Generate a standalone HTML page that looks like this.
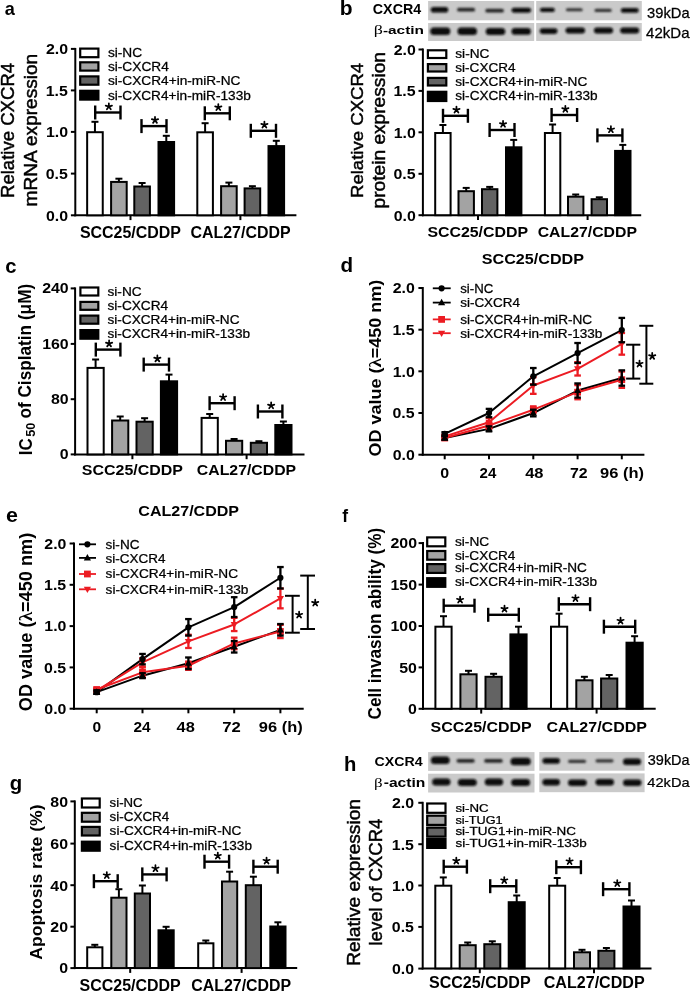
<!DOCTYPE html>
<html><head><meta charset="utf-8"><style>
html,body{margin:0;padding:0;background:#fff;overflow:hidden;}
svg{display:block;}
</style></head><body>
<svg width="691" height="992" viewBox="0 0 691 992">
<defs><filter id="bl" x="-20%" y="-60%" width="140%" height="220%"><feGaussianBlur stdDeviation="0.8"/></filter><filter id="soft" x="0" y="0" width="100%" height="100%"><feGaussianBlur stdDeviation="0.3"/></filter></defs>
<g filter="url(#soft)">
<rect width="691" height="992" fill="#fff"/>
<line x1="75.30" y1="47.90" x2="75.30" y2="216.30" stroke="#000" stroke-width="2.0"/>
<line x1="74.30" y1="215.30" x2="296.40" y2="215.30" stroke="#000" stroke-width="2.0"/>
<line x1="70.90" y1="48.90" x2="75.30" y2="48.90" stroke="#000" stroke-width="2.0"/>
<text transform="translate(45.92,54.20) scale(1.0900,1)" font-size="14.60" font-weight="bold" font-family='"Liberation Sans", sans-serif' fill="#000" >2.0</text>
<line x1="70.90" y1="90.40" x2="75.30" y2="90.40" stroke="#000" stroke-width="2.0"/>
<text transform="translate(45.68,95.70) scale(1.0900,1)" font-size="14.60" font-weight="bold" font-family='"Liberation Sans", sans-serif' fill="#000" >1.5</text>
<line x1="70.90" y1="131.90" x2="75.30" y2="131.90" stroke="#000" stroke-width="2.0"/>
<text transform="translate(45.92,137.20) scale(1.0900,1)" font-size="14.60" font-weight="bold" font-family='"Liberation Sans", sans-serif' fill="#000" >1.0</text>
<line x1="70.90" y1="173.60" x2="75.30" y2="173.60" stroke="#000" stroke-width="2.0"/>
<text transform="translate(45.68,178.90) scale(1.0900,1)" font-size="14.60" font-weight="bold" font-family='"Liberation Sans", sans-serif' fill="#000" >0.5</text>
<line x1="70.90" y1="215.30" x2="75.30" y2="215.30" stroke="#000" stroke-width="2.0"/>
<text transform="translate(45.92,220.60) scale(1.0900,1)" font-size="14.60" font-weight="bold" font-family='"Liberation Sans", sans-serif' fill="#000" >0.0</text>
<line x1="130.50" y1="215.30" x2="130.50" y2="220.10" stroke="#000" stroke-width="2.0"/>
<line x1="240.40" y1="215.30" x2="240.40" y2="220.10" stroke="#000" stroke-width="2.0"/>
<line x1="94.95" y1="121.80" x2="94.95" y2="132.20" stroke="#000" stroke-width="2.0"/>
<line x1="91.45" y1="121.80" x2="98.45" y2="121.80" stroke="#000" stroke-width="2.0"/>
<rect x="87.15" y="132.20" width="15.60" height="83.10" fill="#ffffff" stroke="#000" stroke-width="2.0"/>
<line x1="118.90" y1="178.70" x2="118.90" y2="181.90" stroke="#000" stroke-width="2.0"/>
<line x1="115.40" y1="178.70" x2="122.40" y2="178.70" stroke="#000" stroke-width="2.0"/>
<rect x="111.10" y="181.90" width="15.60" height="33.40" fill="#a3a3a3" stroke="#000" stroke-width="2.0"/>
<line x1="142.10" y1="183.00" x2="142.10" y2="186.50" stroke="#000" stroke-width="2.0"/>
<line x1="138.60" y1="183.00" x2="145.60" y2="183.00" stroke="#000" stroke-width="2.0"/>
<rect x="134.30" y="186.50" width="15.60" height="28.80" fill="#646464" stroke="#000" stroke-width="2.0"/>
<line x1="166.30" y1="135.80" x2="166.30" y2="142.00" stroke="#000" stroke-width="2.0"/>
<line x1="162.80" y1="135.80" x2="169.80" y2="135.80" stroke="#000" stroke-width="2.0"/>
<rect x="158.50" y="142.00" width="15.60" height="73.30" fill="#000000" stroke="#000" stroke-width="2.0"/>
<line x1="205.10" y1="123.20" x2="205.10" y2="132.30" stroke="#000" stroke-width="2.0"/>
<line x1="201.60" y1="123.20" x2="208.60" y2="123.20" stroke="#000" stroke-width="2.0"/>
<rect x="197.30" y="132.30" width="15.60" height="83.00" fill="#ffffff" stroke="#000" stroke-width="2.0"/>
<line x1="228.90" y1="182.60" x2="228.90" y2="186.20" stroke="#000" stroke-width="2.0"/>
<line x1="225.40" y1="182.60" x2="232.40" y2="182.60" stroke="#000" stroke-width="2.0"/>
<rect x="221.10" y="186.20" width="15.60" height="29.10" fill="#a3a3a3" stroke="#000" stroke-width="2.0"/>
<line x1="252.40" y1="186.20" x2="252.40" y2="188.40" stroke="#000" stroke-width="2.0"/>
<line x1="248.90" y1="186.20" x2="255.90" y2="186.20" stroke="#000" stroke-width="2.0"/>
<rect x="244.60" y="188.40" width="15.60" height="26.90" fill="#646464" stroke="#000" stroke-width="2.0"/>
<line x1="276.30" y1="140.80" x2="276.30" y2="146.10" stroke="#000" stroke-width="2.0"/>
<line x1="272.80" y1="140.80" x2="279.80" y2="140.80" stroke="#000" stroke-width="2.0"/>
<rect x="268.50" y="146.10" width="15.60" height="69.20" fill="#000000" stroke="#000" stroke-width="2.0"/>
<line x1="95.20" y1="112.50" x2="120.50" y2="112.50" stroke="#000" stroke-width="2.4"/>
<line x1="95.20" y1="105.50" x2="95.20" y2="119.50" stroke="#000" stroke-width="2.4"/>
<line x1="120.50" y1="105.50" x2="120.50" y2="119.50" stroke="#000" stroke-width="2.4"/>
<path d="M108.85,106.60L108.85,103.30M108.85,106.60L111.99,105.58M108.85,106.60L105.71,105.58M108.85,106.60L110.79,109.27M108.85,106.60L106.91,109.27" stroke="#000" stroke-width="1.75" stroke-linecap="round" fill="none"/>
<line x1="141.50" y1="126.10" x2="166.50" y2="126.10" stroke="#000" stroke-width="2.4"/>
<line x1="141.50" y1="119.10" x2="141.50" y2="133.10" stroke="#000" stroke-width="2.4"/>
<line x1="166.50" y1="119.10" x2="166.50" y2="133.10" stroke="#000" stroke-width="2.4"/>
<path d="M155.00,120.20L155.00,116.90M155.00,120.20L158.14,119.18M155.00,120.20L151.86,119.18M155.00,120.20L156.94,122.87M155.00,120.20L153.06,122.87" stroke="#000" stroke-width="1.75" stroke-linecap="round" fill="none"/>
<line x1="204.80" y1="113.30" x2="229.80" y2="113.30" stroke="#000" stroke-width="2.4"/>
<line x1="204.80" y1="106.30" x2="204.80" y2="120.30" stroke="#000" stroke-width="2.4"/>
<line x1="229.80" y1="106.30" x2="229.80" y2="120.30" stroke="#000" stroke-width="2.4"/>
<path d="M218.30,107.40L218.30,104.10M218.30,107.40L221.44,106.38M218.30,107.40L215.16,106.38M218.30,107.40L220.24,110.07M218.30,107.40L216.36,110.07" stroke="#000" stroke-width="1.75" stroke-linecap="round" fill="none"/>
<line x1="250.80" y1="130.80" x2="276.00" y2="130.80" stroke="#000" stroke-width="2.4"/>
<line x1="250.80" y1="123.80" x2="250.80" y2="137.80" stroke="#000" stroke-width="2.4"/>
<line x1="276.00" y1="123.80" x2="276.00" y2="137.80" stroke="#000" stroke-width="2.4"/>
<path d="M264.40,124.90L264.40,121.60M264.40,124.90L267.54,123.88M264.40,124.90L261.26,123.88M264.40,124.90L266.34,127.57M264.40,124.90L262.46,127.57" stroke="#000" stroke-width="1.75" stroke-linecap="round" fill="none"/>
<rect x="80.20" y="48.60" width="18.20" height="8.60" fill="#ffffff" stroke="#000" stroke-width="2.2"/>
<text transform="translate(107.89,57.30) scale(1.1443,1)" font-size="12.00" font-weight="normal" font-family='"Liberation Sans", sans-serif' fill="#000" stroke="#000" stroke-width="0.25" >si-NC</text>
<rect x="80.20" y="62.30" width="18.20" height="8.30" fill="#a3a3a3" stroke="#000" stroke-width="2.2"/>
<text transform="translate(107.89,70.90) scale(1.1422,1)" font-size="12.00" font-weight="normal" font-family='"Liberation Sans", sans-serif' fill="#000" stroke="#000" stroke-width="0.25" >si-CXCR4</text>
<rect x="80.20" y="76.40" width="18.20" height="8.30" fill="#646464" stroke="#000" stroke-width="2.2"/>
<text transform="translate(107.89,84.80) scale(1.1394,1)" font-size="12.00" font-weight="normal" font-family='"Liberation Sans", sans-serif' fill="#000" stroke="#000" stroke-width="0.25" >si-CXCR4+in-miR-NC</text>
<rect x="80.20" y="90.80" width="18.20" height="8.80" fill="#000000" stroke="#000" stroke-width="2.2"/>
<text transform="translate(107.89,99.50) scale(1.1381,1)" font-size="12.00" font-weight="normal" font-family='"Liberation Sans", sans-serif' fill="#000" stroke="#000" stroke-width="0.25" >si-CXCR4+in-miR-133b</text>
<text transform="translate(79.92,237.50) scale(1.0245,1)" font-size="15.59" font-weight="bold" font-family='"Liberation Sans", sans-serif' fill="#000" >SCC25/CDDP</text>
<text transform="translate(190.46,237.50) scale(1.0237,1)" font-size="15.59" font-weight="bold" font-family='"Liberation Sans", sans-serif' fill="#000" >CAL27/CDDP</text>
<text transform="translate(14.20,197.99) rotate(-90) scale(1.0514,1)" font-size="17.66" font-weight="normal" font-family='"Liberation Sans", sans-serif' fill="#000" stroke="#000" stroke-width="0.45">Relative CXCR4</text>
<text transform="translate(36.80,206.44) rotate(-90) scale(1.0733,1)" font-size="17.79" font-weight="normal" font-family='"Liberation Sans", sans-serif' fill="#000" stroke="#000" stroke-width="0.45">mRNA expression</text>
<text transform="translate(4.76,15.31) scale(0.9497,1)" font-size="19.09" font-weight="bold" font-family='"Liberation Sans", sans-serif' fill="#000">a</text>
<line x1="422.90" y1="48.50" x2="422.90" y2="216.20" stroke="#000" stroke-width="2.0"/>
<line x1="421.90" y1="215.20" x2="641.20" y2="215.20" stroke="#000" stroke-width="2.0"/>
<line x1="418.50" y1="49.50" x2="422.90" y2="49.50" stroke="#000" stroke-width="2.0"/>
<text transform="translate(393.72,54.80) scale(1.0900,1)" font-size="14.60" font-weight="bold" font-family='"Liberation Sans", sans-serif' fill="#000" >2.0</text>
<line x1="418.50" y1="90.90" x2="422.90" y2="90.90" stroke="#000" stroke-width="2.0"/>
<text transform="translate(393.48,96.20) scale(1.0900,1)" font-size="14.60" font-weight="bold" font-family='"Liberation Sans", sans-serif' fill="#000" >1.5</text>
<line x1="418.50" y1="132.30" x2="422.90" y2="132.30" stroke="#000" stroke-width="2.0"/>
<text transform="translate(393.72,137.60) scale(1.0900,1)" font-size="14.60" font-weight="bold" font-family='"Liberation Sans", sans-serif' fill="#000" >1.0</text>
<line x1="418.50" y1="173.80" x2="422.90" y2="173.80" stroke="#000" stroke-width="2.0"/>
<text transform="translate(393.48,179.10) scale(1.0900,1)" font-size="14.60" font-weight="bold" font-family='"Liberation Sans", sans-serif' fill="#000" >0.5</text>
<line x1="418.50" y1="215.20" x2="422.90" y2="215.20" stroke="#000" stroke-width="2.0"/>
<text transform="translate(393.72,220.50) scale(1.0900,1)" font-size="14.60" font-weight="bold" font-family='"Liberation Sans", sans-serif' fill="#000" >0.0</text>
<line x1="478.00" y1="215.20" x2="478.00" y2="220.00" stroke="#000" stroke-width="2.0"/>
<line x1="587.60" y1="215.20" x2="587.60" y2="220.00" stroke="#000" stroke-width="2.0"/>
<line x1="442.90" y1="125.00" x2="442.90" y2="133.00" stroke="#000" stroke-width="2.0"/>
<line x1="439.40" y1="125.00" x2="446.40" y2="125.00" stroke="#000" stroke-width="2.0"/>
<rect x="435.20" y="133.00" width="15.40" height="82.20" fill="#ffffff" stroke="#000" stroke-width="2.0"/>
<line x1="466.20" y1="187.90" x2="466.20" y2="191.20" stroke="#000" stroke-width="2.0"/>
<line x1="462.70" y1="187.90" x2="469.70" y2="187.90" stroke="#000" stroke-width="2.0"/>
<rect x="458.50" y="191.20" width="15.40" height="24.00" fill="#a3a3a3" stroke="#000" stroke-width="2.0"/>
<line x1="489.70" y1="186.90" x2="489.70" y2="189.20" stroke="#000" stroke-width="2.0"/>
<line x1="486.20" y1="186.90" x2="493.20" y2="186.90" stroke="#000" stroke-width="2.0"/>
<rect x="482.00" y="189.20" width="15.40" height="26.00" fill="#646464" stroke="#000" stroke-width="2.0"/>
<line x1="513.70" y1="139.90" x2="513.70" y2="147.30" stroke="#000" stroke-width="2.0"/>
<line x1="510.20" y1="139.90" x2="517.20" y2="139.90" stroke="#000" stroke-width="2.0"/>
<rect x="506.00" y="147.30" width="15.40" height="67.90" fill="#000000" stroke="#000" stroke-width="2.0"/>
<line x1="552.60" y1="124.50" x2="552.60" y2="133.00" stroke="#000" stroke-width="2.0"/>
<line x1="549.10" y1="124.50" x2="556.10" y2="124.50" stroke="#000" stroke-width="2.0"/>
<rect x="544.90" y="133.00" width="15.40" height="82.20" fill="#ffffff" stroke="#000" stroke-width="2.0"/>
<line x1="575.70" y1="194.50" x2="575.70" y2="196.70" stroke="#000" stroke-width="2.0"/>
<line x1="572.20" y1="194.50" x2="579.20" y2="194.50" stroke="#000" stroke-width="2.0"/>
<rect x="568.00" y="196.70" width="15.40" height="18.50" fill="#a3a3a3" stroke="#000" stroke-width="2.0"/>
<line x1="599.30" y1="197.30" x2="599.30" y2="199.20" stroke="#000" stroke-width="2.0"/>
<line x1="595.80" y1="197.30" x2="602.80" y2="197.30" stroke="#000" stroke-width="2.0"/>
<rect x="591.60" y="199.20" width="15.40" height="16.00" fill="#646464" stroke="#000" stroke-width="2.0"/>
<line x1="622.80" y1="144.90" x2="622.80" y2="150.90" stroke="#000" stroke-width="2.0"/>
<line x1="619.30" y1="144.90" x2="626.30" y2="144.90" stroke="#000" stroke-width="2.0"/>
<rect x="615.10" y="150.90" width="15.40" height="64.30" fill="#000000" stroke="#000" stroke-width="2.0"/>
<line x1="443.00" y1="115.80" x2="467.90" y2="115.80" stroke="#000" stroke-width="2.4"/>
<line x1="443.00" y1="108.80" x2="443.00" y2="122.80" stroke="#000" stroke-width="2.4"/>
<line x1="467.90" y1="108.80" x2="467.90" y2="122.80" stroke="#000" stroke-width="2.4"/>
<path d="M456.45,109.90L456.45,106.60M456.45,109.90L459.59,108.88M456.45,109.90L453.31,108.88M456.45,109.90L458.39,112.57M456.45,109.90L454.51,112.57" stroke="#000" stroke-width="1.75" stroke-linecap="round" fill="none"/>
<line x1="489.60" y1="130.00" x2="514.50" y2="130.00" stroke="#000" stroke-width="2.4"/>
<line x1="489.60" y1="123.00" x2="489.60" y2="137.00" stroke="#000" stroke-width="2.4"/>
<line x1="514.50" y1="123.00" x2="514.50" y2="137.00" stroke="#000" stroke-width="2.4"/>
<path d="M503.05,124.10L503.05,120.80M503.05,124.10L506.19,123.08M503.05,124.10L499.91,123.08M503.05,124.10L504.99,126.77M503.05,124.10L501.11,126.77" stroke="#000" stroke-width="1.75" stroke-linecap="round" fill="none"/>
<line x1="551.60" y1="115.00" x2="577.10" y2="115.00" stroke="#000" stroke-width="2.4"/>
<line x1="551.60" y1="108.00" x2="551.60" y2="122.00" stroke="#000" stroke-width="2.4"/>
<line x1="577.10" y1="108.00" x2="577.10" y2="122.00" stroke="#000" stroke-width="2.4"/>
<path d="M565.35,109.10L565.35,105.80M565.35,109.10L568.49,108.08M565.35,109.10L562.21,108.08M565.35,109.10L567.29,111.77M565.35,109.10L563.41,111.77" stroke="#000" stroke-width="1.75" stroke-linecap="round" fill="none"/>
<line x1="597.40" y1="135.40" x2="622.40" y2="135.40" stroke="#000" stroke-width="2.4"/>
<line x1="597.40" y1="128.40" x2="597.40" y2="142.40" stroke="#000" stroke-width="2.4"/>
<line x1="622.40" y1="128.40" x2="622.40" y2="142.40" stroke="#000" stroke-width="2.4"/>
<path d="M610.90,129.50L610.90,126.20M610.90,129.50L614.04,128.48M610.90,129.50L607.76,128.48M610.90,129.50L612.84,132.17M610.90,129.50L608.96,132.17" stroke="#000" stroke-width="1.75" stroke-linecap="round" fill="none"/>
<rect x="427.90" y="50.30" width="18.40" height="7.70" fill="#ffffff" stroke="#000" stroke-width="2.2"/>
<text transform="translate(455.29,58.20) scale(1.1375,1)" font-size="12.00" font-weight="normal" font-family='"Liberation Sans", sans-serif' fill="#000" stroke="#000" stroke-width="0.25" >si-NC</text>
<rect x="427.90" y="64.10" width="18.40" height="7.40" fill="#a3a3a3" stroke="#000" stroke-width="2.2"/>
<text transform="translate(455.29,71.90) scale(1.1307,1)" font-size="12.00" font-weight="normal" font-family='"Liberation Sans", sans-serif' fill="#000" stroke="#000" stroke-width="0.25" >si-CXCR4</text>
<rect x="427.90" y="77.90" width="18.40" height="7.60" fill="#646464" stroke="#000" stroke-width="2.2"/>
<text transform="translate(455.29,85.60) scale(1.1351,1)" font-size="12.00" font-weight="normal" font-family='"Liberation Sans", sans-serif' fill="#000" stroke="#000" stroke-width="0.25" >si-CXCR4+in-miR-NC</text>
<rect x="427.90" y="91.80" width="18.40" height="9.20" fill="#000000" stroke="#000" stroke-width="2.2"/>
<text transform="translate(455.29,100.20) scale(1.1341,1)" font-size="12.00" font-weight="normal" font-family='"Liberation Sans", sans-serif' fill="#000" stroke="#000" stroke-width="0.25" >si-CXCR4+in-miR-133b</text>
<text transform="translate(427.42,237.20) scale(1.0982,1)" font-size="14.48" font-weight="bold" font-family='"Liberation Sans", sans-serif' fill="#000" >SCC25/CDDP</text>
<text transform="translate(537.67,237.20) scale(1.0927,1)" font-size="14.48" font-weight="bold" font-family='"Liberation Sans", sans-serif' fill="#000" >CAL27/CDDP</text>
<text transform="translate(363.30,197.99) rotate(-90) scale(1.0775,1)" font-size="17.24" font-weight="normal" font-family='"Liberation Sans", sans-serif' fill="#000" stroke="#000" stroke-width="0.45">Relative CXCR4</text>
<text transform="translate(385.30,208.44) rotate(-90) scale(1.0594,1)" font-size="18.07" font-weight="normal" font-family='"Liberation Sans", sans-serif' fill="#000" stroke="#000" stroke-width="0.45">protein expression</text>
<text transform="translate(339.74,15.41) scale(1.0789,1)" font-size="19.46" font-weight="bold" font-family='"Liberation Sans", sans-serif' fill="#000">b</text>
<line x1="75.10" y1="287.40" x2="75.10" y2="455.40" stroke="#000" stroke-width="2.0"/>
<line x1="74.10" y1="454.40" x2="304.50" y2="454.40" stroke="#000" stroke-width="2.0"/>
<line x1="70.70" y1="288.40" x2="75.10" y2="288.40" stroke="#000" stroke-width="2.0"/>
<text transform="translate(42.14,293.00) scale(1.0900,1)" font-size="14.60" font-weight="bold" font-family='"Liberation Sans", sans-serif' fill="#000" >240</text>
<line x1="70.70" y1="343.90" x2="75.10" y2="343.90" stroke="#000" stroke-width="2.0"/>
<text transform="translate(42.14,348.50) scale(1.0900,1)" font-size="14.60" font-weight="bold" font-family='"Liberation Sans", sans-serif' fill="#000" >160</text>
<line x1="70.70" y1="399.20" x2="75.10" y2="399.20" stroke="#000" stroke-width="2.0"/>
<text transform="translate(50.97,403.80) scale(1.0900,1)" font-size="14.60" font-weight="bold" font-family='"Liberation Sans", sans-serif' fill="#000" >80</text>
<line x1="70.70" y1="454.40" x2="75.10" y2="454.40" stroke="#000" stroke-width="2.0"/>
<text transform="translate(59.80,459.00) scale(1.0900,1)" font-size="14.60" font-weight="bold" font-family='"Liberation Sans", sans-serif' fill="#000" >0</text>
<line x1="132.40" y1="454.40" x2="132.40" y2="459.20" stroke="#000" stroke-width="2.0"/>
<line x1="246.60" y1="454.40" x2="246.60" y2="459.20" stroke="#000" stroke-width="2.0"/>
<line x1="95.60" y1="359.50" x2="95.60" y2="367.90" stroke="#000" stroke-width="2.0"/>
<line x1="92.10" y1="359.50" x2="99.10" y2="359.50" stroke="#000" stroke-width="2.0"/>
<rect x="87.50" y="367.90" width="16.20" height="86.50" fill="#ffffff" stroke="#000" stroke-width="2.0"/>
<line x1="120.20" y1="416.50" x2="120.20" y2="420.50" stroke="#000" stroke-width="2.0"/>
<line x1="116.70" y1="416.50" x2="123.70" y2="416.50" stroke="#000" stroke-width="2.0"/>
<rect x="112.10" y="420.50" width="16.20" height="33.90" fill="#a3a3a3" stroke="#000" stroke-width="2.0"/>
<line x1="144.60" y1="418.20" x2="144.60" y2="421.70" stroke="#000" stroke-width="2.0"/>
<line x1="141.10" y1="418.20" x2="148.10" y2="418.20" stroke="#000" stroke-width="2.0"/>
<rect x="136.50" y="421.70" width="16.20" height="32.70" fill="#646464" stroke="#000" stroke-width="2.0"/>
<line x1="169.00" y1="374.60" x2="169.00" y2="381.30" stroke="#000" stroke-width="2.0"/>
<line x1="165.50" y1="374.60" x2="172.50" y2="374.60" stroke="#000" stroke-width="2.0"/>
<rect x="160.90" y="381.30" width="16.20" height="73.10" fill="#000000" stroke="#000" stroke-width="2.0"/>
<line x1="209.70" y1="414.00" x2="209.70" y2="417.90" stroke="#000" stroke-width="2.0"/>
<line x1="206.20" y1="414.00" x2="213.20" y2="414.00" stroke="#000" stroke-width="2.0"/>
<rect x="201.60" y="417.90" width="16.20" height="36.50" fill="#ffffff" stroke="#000" stroke-width="2.0"/>
<line x1="234.10" y1="439.00" x2="234.10" y2="440.80" stroke="#000" stroke-width="2.0"/>
<line x1="230.60" y1="439.00" x2="237.60" y2="439.00" stroke="#000" stroke-width="2.0"/>
<rect x="226.00" y="440.80" width="16.20" height="13.60" fill="#a3a3a3" stroke="#000" stroke-width="2.0"/>
<line x1="258.90" y1="441.20" x2="258.90" y2="442.80" stroke="#000" stroke-width="2.0"/>
<line x1="255.40" y1="441.20" x2="262.40" y2="441.20" stroke="#000" stroke-width="2.0"/>
<rect x="250.80" y="442.80" width="16.20" height="11.60" fill="#646464" stroke="#000" stroke-width="2.0"/>
<line x1="283.40" y1="421.50" x2="283.40" y2="425.00" stroke="#000" stroke-width="2.0"/>
<line x1="279.90" y1="421.50" x2="286.90" y2="421.50" stroke="#000" stroke-width="2.0"/>
<rect x="275.30" y="425.00" width="16.20" height="29.40" fill="#000000" stroke="#000" stroke-width="2.0"/>
<line x1="95.80" y1="349.60" x2="120.40" y2="349.60" stroke="#000" stroke-width="2.4"/>
<line x1="95.80" y1="342.60" x2="95.80" y2="356.60" stroke="#000" stroke-width="2.4"/>
<line x1="120.40" y1="342.60" x2="120.40" y2="356.60" stroke="#000" stroke-width="2.4"/>
<path d="M109.10,343.70L109.10,340.40M109.10,343.70L112.24,342.68M109.10,343.70L105.96,342.68M109.10,343.70L111.04,346.37M109.10,343.70L107.16,346.37" stroke="#000" stroke-width="1.75" stroke-linecap="round" fill="none"/>
<line x1="143.70" y1="364.60" x2="169.00" y2="364.60" stroke="#000" stroke-width="2.4"/>
<line x1="143.70" y1="357.60" x2="143.70" y2="371.60" stroke="#000" stroke-width="2.4"/>
<line x1="169.00" y1="357.60" x2="169.00" y2="371.60" stroke="#000" stroke-width="2.4"/>
<path d="M157.35,358.70L157.35,355.40M157.35,358.70L160.49,357.68M157.35,358.70L154.21,357.68M157.35,358.70L159.29,361.37M157.35,358.70L155.41,361.37" stroke="#000" stroke-width="1.75" stroke-linecap="round" fill="none"/>
<line x1="209.60" y1="403.20" x2="234.60" y2="403.20" stroke="#000" stroke-width="2.4"/>
<line x1="209.60" y1="396.20" x2="209.60" y2="410.20" stroke="#000" stroke-width="2.4"/>
<line x1="234.60" y1="396.20" x2="234.60" y2="410.20" stroke="#000" stroke-width="2.4"/>
<path d="M223.10,397.30L223.10,394.00M223.10,397.30L226.24,396.28M223.10,397.30L219.96,396.28M223.10,397.30L225.04,399.97M223.10,397.30L221.16,399.97" stroke="#000" stroke-width="1.75" stroke-linecap="round" fill="none"/>
<line x1="257.90" y1="411.50" x2="282.40" y2="411.50" stroke="#000" stroke-width="2.4"/>
<line x1="257.90" y1="404.50" x2="257.90" y2="418.50" stroke="#000" stroke-width="2.4"/>
<line x1="282.40" y1="404.50" x2="282.40" y2="418.50" stroke="#000" stroke-width="2.4"/>
<path d="M271.15,405.60L271.15,402.30M271.15,405.60L274.29,404.58M271.15,405.60L268.01,404.58M271.15,405.60L273.09,408.27M271.15,405.60L269.21,408.27" stroke="#000" stroke-width="1.75" stroke-linecap="round" fill="none"/>
<rect x="80.40" y="287.50" width="17.90" height="8.00" fill="#ffffff" stroke="#000" stroke-width="2.2"/>
<text transform="translate(107.49,295.90) scale(1.1375,1)" font-size="12.00" font-weight="normal" font-family='"Liberation Sans", sans-serif' fill="#000" stroke="#000" stroke-width="0.25" >si-NC</text>
<rect x="80.40" y="301.90" width="17.90" height="7.90" fill="#a3a3a3" stroke="#000" stroke-width="2.2"/>
<text transform="translate(107.49,309.90) scale(1.1384,1)" font-size="12.00" font-weight="normal" font-family='"Liberation Sans", sans-serif' fill="#000" stroke="#000" stroke-width="0.25" >si-CXCR4</text>
<rect x="80.40" y="315.60" width="17.90" height="8.10" fill="#646464" stroke="#000" stroke-width="2.2"/>
<text transform="translate(107.49,324.20) scale(1.1351,1)" font-size="12.00" font-weight="normal" font-family='"Liberation Sans", sans-serif' fill="#000" stroke="#000" stroke-width="0.25" >si-CXCR4+in-miR-NC</text>
<rect x="80.40" y="330.10" width="17.90" height="8.60" fill="#000000" stroke="#000" stroke-width="2.2"/>
<text transform="translate(107.49,338.10) scale(1.1349,1)" font-size="12.00" font-weight="normal" font-family='"Liberation Sans", sans-serif' fill="#000" stroke="#000" stroke-width="0.25" >si-CXCR4+in-miR-133b</text>
<text transform="translate(81.82,474.90) scale(1.1026,1)" font-size="14.48" font-weight="bold" font-family='"Liberation Sans", sans-serif' fill="#000" >SCC25/CDDP</text>
<text transform="translate(196.87,474.90) scale(1.0927,1)" font-size="14.48" font-weight="bold" font-family='"Liberation Sans", sans-serif' fill="#000" >CAL27/CDDP</text>
<text transform="translate(5.29,272.50) scale(1.0196,1)" font-size="19.82" font-weight="bold" font-family='"Liberation Sans", sans-serif' fill="#000">c</text>
<line x1="423.00" y1="542.10" x2="423.00" y2="709.80" stroke="#000" stroke-width="2.0"/>
<line x1="422.00" y1="708.80" x2="655.70" y2="708.80" stroke="#000" stroke-width="2.0"/>
<line x1="418.60" y1="543.10" x2="423.00" y2="543.10" stroke="#000" stroke-width="2.0"/>
<text transform="translate(390.44,548.40) scale(1.0900,1)" font-size="14.60" font-weight="bold" font-family='"Liberation Sans", sans-serif' fill="#000" >200</text>
<line x1="418.60" y1="584.60" x2="423.00" y2="584.60" stroke="#000" stroke-width="2.0"/>
<text transform="translate(390.44,589.90) scale(1.0900,1)" font-size="14.60" font-weight="bold" font-family='"Liberation Sans", sans-serif' fill="#000" >150</text>
<line x1="418.60" y1="626.00" x2="423.00" y2="626.00" stroke="#000" stroke-width="2.0"/>
<text transform="translate(390.44,631.30) scale(1.0900,1)" font-size="14.60" font-weight="bold" font-family='"Liberation Sans", sans-serif' fill="#000" >100</text>
<line x1="418.60" y1="667.40" x2="423.00" y2="667.40" stroke="#000" stroke-width="2.0"/>
<text transform="translate(399.27,672.70) scale(1.0900,1)" font-size="14.60" font-weight="bold" font-family='"Liberation Sans", sans-serif' fill="#000" >50</text>
<line x1="418.60" y1="708.80" x2="423.00" y2="708.80" stroke="#000" stroke-width="2.0"/>
<text transform="translate(408.10,714.10) scale(1.0900,1)" font-size="14.60" font-weight="bold" font-family='"Liberation Sans", sans-serif' fill="#000" >0</text>
<line x1="481.20" y1="708.80" x2="481.20" y2="713.60" stroke="#000" stroke-width="2.0"/>
<line x1="596.60" y1="708.80" x2="596.60" y2="713.60" stroke="#000" stroke-width="2.0"/>
<line x1="443.50" y1="616.20" x2="443.50" y2="626.70" stroke="#000" stroke-width="2.0"/>
<line x1="440.00" y1="616.20" x2="447.00" y2="616.20" stroke="#000" stroke-width="2.0"/>
<rect x="435.40" y="626.70" width="16.20" height="82.10" fill="#ffffff" stroke="#000" stroke-width="2.0"/>
<line x1="468.50" y1="670.80" x2="468.50" y2="674.30" stroke="#000" stroke-width="2.0"/>
<line x1="465.00" y1="670.80" x2="472.00" y2="670.80" stroke="#000" stroke-width="2.0"/>
<rect x="460.40" y="674.30" width="16.20" height="34.50" fill="#a3a3a3" stroke="#000" stroke-width="2.0"/>
<line x1="493.60" y1="673.80" x2="493.60" y2="676.80" stroke="#000" stroke-width="2.0"/>
<line x1="490.10" y1="673.80" x2="497.10" y2="673.80" stroke="#000" stroke-width="2.0"/>
<rect x="485.50" y="676.80" width="16.20" height="32.00" fill="#646464" stroke="#000" stroke-width="2.0"/>
<line x1="518.50" y1="626.70" x2="518.50" y2="634.40" stroke="#000" stroke-width="2.0"/>
<line x1="515.00" y1="626.70" x2="522.00" y2="626.70" stroke="#000" stroke-width="2.0"/>
<rect x="510.40" y="634.40" width="16.20" height="74.40" fill="#000000" stroke="#000" stroke-width="2.0"/>
<line x1="559.10" y1="613.70" x2="559.10" y2="626.70" stroke="#000" stroke-width="2.0"/>
<line x1="555.60" y1="613.70" x2="562.60" y2="613.70" stroke="#000" stroke-width="2.0"/>
<rect x="551.00" y="626.70" width="16.20" height="82.10" fill="#ffffff" stroke="#000" stroke-width="2.0"/>
<line x1="584.40" y1="676.80" x2="584.40" y2="680.30" stroke="#000" stroke-width="2.0"/>
<line x1="580.90" y1="676.80" x2="587.90" y2="676.80" stroke="#000" stroke-width="2.0"/>
<rect x="576.30" y="680.30" width="16.20" height="28.50" fill="#a3a3a3" stroke="#000" stroke-width="2.0"/>
<line x1="609.20" y1="675.00" x2="609.20" y2="678.50" stroke="#000" stroke-width="2.0"/>
<line x1="605.70" y1="675.00" x2="612.70" y2="675.00" stroke="#000" stroke-width="2.0"/>
<rect x="601.10" y="678.50" width="16.20" height="30.30" fill="#646464" stroke="#000" stroke-width="2.0"/>
<line x1="634.60" y1="636.20" x2="634.60" y2="642.70" stroke="#000" stroke-width="2.0"/>
<line x1="631.10" y1="636.20" x2="638.10" y2="636.20" stroke="#000" stroke-width="2.0"/>
<rect x="626.50" y="642.70" width="16.20" height="66.10" fill="#000000" stroke="#000" stroke-width="2.0"/>
<line x1="443.70" y1="605.70" x2="474.50" y2="605.70" stroke="#000" stroke-width="2.4"/>
<line x1="443.70" y1="598.70" x2="443.70" y2="612.70" stroke="#000" stroke-width="2.4"/>
<line x1="474.50" y1="598.70" x2="474.50" y2="612.70" stroke="#000" stroke-width="2.4"/>
<path d="M460.10,599.80L460.10,596.50M460.10,599.80L463.24,598.78M460.10,599.80L456.96,598.78M460.10,599.80L462.04,602.47M460.10,599.80L458.16,602.47" stroke="#000" stroke-width="1.75" stroke-linecap="round" fill="none"/>
<line x1="488.20" y1="614.80" x2="518.80" y2="614.80" stroke="#000" stroke-width="2.4"/>
<line x1="488.20" y1="607.80" x2="488.20" y2="621.80" stroke="#000" stroke-width="2.4"/>
<line x1="518.80" y1="607.80" x2="518.80" y2="621.80" stroke="#000" stroke-width="2.4"/>
<path d="M504.50,608.90L504.50,605.60M504.50,608.90L507.64,607.88M504.50,608.90L501.36,607.88M504.50,608.90L506.44,611.57M504.50,608.90L502.56,611.57" stroke="#000" stroke-width="1.75" stroke-linecap="round" fill="none"/>
<line x1="558.80" y1="604.20" x2="590.10" y2="604.20" stroke="#000" stroke-width="2.4"/>
<line x1="558.80" y1="597.20" x2="558.80" y2="611.20" stroke="#000" stroke-width="2.4"/>
<line x1="590.10" y1="597.20" x2="590.10" y2="611.20" stroke="#000" stroke-width="2.4"/>
<path d="M575.45,598.30L575.45,595.00M575.45,598.30L578.59,597.28M575.45,598.30L572.31,597.28M575.45,598.30L577.39,600.97M575.45,598.30L573.51,600.97" stroke="#000" stroke-width="1.75" stroke-linecap="round" fill="none"/>
<line x1="603.90" y1="626.70" x2="635.20" y2="626.70" stroke="#000" stroke-width="2.4"/>
<line x1="603.90" y1="619.70" x2="603.90" y2="633.70" stroke="#000" stroke-width="2.4"/>
<line x1="635.20" y1="619.70" x2="635.20" y2="633.70" stroke="#000" stroke-width="2.4"/>
<path d="M620.55,620.80L620.55,617.50M620.55,620.80L623.69,619.78M620.55,620.80L617.41,619.78M620.55,620.80L622.49,623.47M620.55,620.80L618.61,623.47" stroke="#000" stroke-width="1.75" stroke-linecap="round" fill="none"/>
<rect x="427.20" y="537.40" width="18.10" height="8.90" fill="#ffffff" stroke="#000" stroke-width="2.2"/>
<text transform="translate(454.99,546.00) scale(1.1375,1)" font-size="12.00" font-weight="normal" font-family='"Liberation Sans", sans-serif' fill="#000" stroke="#000" stroke-width="0.25" >si-NC</text>
<rect x="427.20" y="551.00" width="18.10" height="8.70" fill="#a3a3a3" stroke="#000" stroke-width="2.2"/>
<text transform="translate(454.99,559.60) scale(1.1326,1)" font-size="12.00" font-weight="normal" font-family='"Liberation Sans", sans-serif' fill="#000" stroke="#000" stroke-width="0.25" >si-CXCR4</text>
<rect x="427.20" y="564.10" width="18.10" height="8.80" fill="#646464" stroke="#000" stroke-width="2.2"/>
<text transform="translate(454.99,572.40) scale(1.1342,1)" font-size="12.00" font-weight="normal" font-family='"Liberation Sans", sans-serif' fill="#000" stroke="#000" stroke-width="0.25" >si-CXCR4+in-miR-NC</text>
<rect x="427.20" y="578.20" width="18.10" height="8.60" fill="#000000" stroke="#000" stroke-width="2.2"/>
<text transform="translate(454.99,585.80) scale(1.1309,1)" font-size="12.00" font-weight="normal" font-family='"Liberation Sans", sans-serif' fill="#000" stroke="#000" stroke-width="0.25" >si-CXCR4+in-miR-133b</text>
<text transform="translate(430.62,731.60) scale(1.0337,1)" font-size="15.45" font-weight="bold" font-family='"Liberation Sans", sans-serif' fill="#000" >SCC25/CDDP</text>
<text transform="translate(546.46,731.60) scale(1.0370,1)" font-size="15.45" font-weight="bold" font-family='"Liberation Sans", sans-serif' fill="#000" >CAL27/CDDP</text>
<text transform="translate(342.14,521.70) scale(0.9261,1)" font-size="18.90" font-weight="bold" font-family='"Liberation Sans", sans-serif' fill="#000">f</text>
<line x1="74.80" y1="800.40" x2="74.80" y2="969.10" stroke="#000" stroke-width="2.0"/>
<line x1="73.80" y1="968.10" x2="297.20" y2="968.10" stroke="#000" stroke-width="2.0"/>
<line x1="70.40" y1="801.40" x2="74.80" y2="801.40" stroke="#000" stroke-width="2.0"/>
<text transform="translate(50.37,806.70) scale(1.0900,1)" font-size="14.60" font-weight="bold" font-family='"Liberation Sans", sans-serif' fill="#000" >80</text>
<line x1="70.40" y1="843.60" x2="74.80" y2="843.60" stroke="#000" stroke-width="2.0"/>
<text transform="translate(50.37,848.90) scale(1.0900,1)" font-size="14.60" font-weight="bold" font-family='"Liberation Sans", sans-serif' fill="#000" >60</text>
<line x1="70.40" y1="885.20" x2="74.80" y2="885.20" stroke="#000" stroke-width="2.0"/>
<text transform="translate(50.37,890.50) scale(1.0900,1)" font-size="14.60" font-weight="bold" font-family='"Liberation Sans", sans-serif' fill="#000" >40</text>
<line x1="70.40" y1="926.70" x2="74.80" y2="926.70" stroke="#000" stroke-width="2.0"/>
<text transform="translate(50.37,932.00) scale(1.0900,1)" font-size="14.60" font-weight="bold" font-family='"Liberation Sans", sans-serif' fill="#000" >20</text>
<line x1="70.40" y1="968.10" x2="74.80" y2="968.10" stroke="#000" stroke-width="2.0"/>
<text transform="translate(59.20,973.40) scale(1.0900,1)" font-size="14.60" font-weight="bold" font-family='"Liberation Sans", sans-serif' fill="#000" >0</text>
<line x1="130.20" y1="968.10" x2="130.20" y2="972.90" stroke="#000" stroke-width="2.0"/>
<line x1="241.60" y1="968.10" x2="241.60" y2="972.90" stroke="#000" stroke-width="2.0"/>
<line x1="94.80" y1="944.80" x2="94.80" y2="947.30" stroke="#000" stroke-width="2.0"/>
<line x1="91.30" y1="944.80" x2="98.30" y2="944.80" stroke="#000" stroke-width="2.0"/>
<rect x="87.20" y="947.30" width="15.20" height="20.80" fill="#ffffff" stroke="#000" stroke-width="2.0"/>
<line x1="118.90" y1="889.20" x2="118.90" y2="897.70" stroke="#000" stroke-width="2.0"/>
<line x1="115.40" y1="889.20" x2="122.40" y2="889.20" stroke="#000" stroke-width="2.0"/>
<rect x="111.30" y="897.70" width="15.20" height="70.40" fill="#a3a3a3" stroke="#000" stroke-width="2.0"/>
<line x1="142.40" y1="885.50" x2="142.40" y2="893.50" stroke="#000" stroke-width="2.0"/>
<line x1="138.90" y1="885.50" x2="145.90" y2="885.50" stroke="#000" stroke-width="2.0"/>
<rect x="134.80" y="893.50" width="15.20" height="74.60" fill="#646464" stroke="#000" stroke-width="2.0"/>
<line x1="166.10" y1="926.80" x2="166.10" y2="930.30" stroke="#000" stroke-width="2.0"/>
<line x1="162.60" y1="926.80" x2="169.60" y2="926.80" stroke="#000" stroke-width="2.0"/>
<rect x="158.50" y="930.30" width="15.20" height="37.80" fill="#000000" stroke="#000" stroke-width="2.0"/>
<line x1="205.80" y1="940.50" x2="205.80" y2="943.30" stroke="#000" stroke-width="2.0"/>
<line x1="202.30" y1="940.50" x2="209.30" y2="940.50" stroke="#000" stroke-width="2.0"/>
<rect x="198.20" y="943.30" width="15.20" height="24.80" fill="#ffffff" stroke="#000" stroke-width="2.0"/>
<line x1="229.60" y1="871.70" x2="229.60" y2="881.50" stroke="#000" stroke-width="2.0"/>
<line x1="226.10" y1="871.70" x2="233.10" y2="871.70" stroke="#000" stroke-width="2.0"/>
<rect x="222.00" y="881.50" width="15.20" height="86.60" fill="#a3a3a3" stroke="#000" stroke-width="2.0"/>
<line x1="253.40" y1="876.70" x2="253.40" y2="885.20" stroke="#000" stroke-width="2.0"/>
<line x1="249.90" y1="876.70" x2="256.90" y2="876.70" stroke="#000" stroke-width="2.0"/>
<rect x="245.80" y="885.20" width="15.20" height="82.90" fill="#646464" stroke="#000" stroke-width="2.0"/>
<line x1="277.90" y1="922.30" x2="277.90" y2="926.50" stroke="#000" stroke-width="2.0"/>
<line x1="274.40" y1="922.30" x2="281.40" y2="922.30" stroke="#000" stroke-width="2.0"/>
<rect x="270.30" y="926.50" width="15.20" height="41.60" fill="#000000" stroke="#000" stroke-width="2.0"/>
<line x1="93.90" y1="881.20" x2="117.70" y2="881.20" stroke="#000" stroke-width="2.4"/>
<line x1="93.90" y1="874.20" x2="93.90" y2="888.20" stroke="#000" stroke-width="2.4"/>
<line x1="117.70" y1="874.20" x2="117.70" y2="888.20" stroke="#000" stroke-width="2.4"/>
<path d="M106.80,875.30L106.80,872.00M106.80,875.30L109.94,874.28M106.80,875.30L103.66,874.28M106.80,875.30L108.74,877.97M106.80,875.30L104.86,877.97" stroke="#000" stroke-width="1.75" stroke-linecap="round" fill="none"/>
<line x1="142.30" y1="874.40" x2="166.60" y2="874.40" stroke="#000" stroke-width="2.4"/>
<line x1="142.30" y1="867.40" x2="142.30" y2="881.40" stroke="#000" stroke-width="2.4"/>
<line x1="166.60" y1="867.40" x2="166.60" y2="881.40" stroke="#000" stroke-width="2.4"/>
<path d="M155.45,868.50L155.45,865.20M155.45,868.50L158.59,867.48M155.45,868.50L152.31,867.48M155.45,868.50L157.39,871.17M155.45,868.50L153.51,871.17" stroke="#000" stroke-width="1.75" stroke-linecap="round" fill="none"/>
<line x1="204.50" y1="861.70" x2="229.10" y2="861.70" stroke="#000" stroke-width="2.4"/>
<line x1="204.50" y1="854.70" x2="204.50" y2="868.70" stroke="#000" stroke-width="2.4"/>
<line x1="229.10" y1="854.70" x2="229.10" y2="868.70" stroke="#000" stroke-width="2.4"/>
<path d="M217.80,855.80L217.80,852.50M217.80,855.80L220.94,854.78M217.80,855.80L214.66,854.78M217.80,855.80L219.74,858.47M217.80,855.80L215.86,858.47" stroke="#000" stroke-width="1.75" stroke-linecap="round" fill="none"/>
<line x1="253.40" y1="866.70" x2="277.70" y2="866.70" stroke="#000" stroke-width="2.4"/>
<line x1="253.40" y1="859.70" x2="253.40" y2="873.70" stroke="#000" stroke-width="2.4"/>
<line x1="277.70" y1="859.70" x2="277.70" y2="873.70" stroke="#000" stroke-width="2.4"/>
<path d="M266.55,860.80L266.55,857.50M266.55,860.80L269.69,859.78M266.55,860.80L263.41,859.78M266.55,860.80L268.49,863.47M266.55,860.80L264.61,863.47" stroke="#000" stroke-width="1.75" stroke-linecap="round" fill="none"/>
<rect x="81.90" y="798.50" width="17.80" height="9.00" fill="#ffffff" stroke="#000" stroke-width="2.2"/>
<text transform="translate(109.60,807.30) scale(1.0997,1)" font-size="12.00" font-weight="normal" font-family='"Liberation Sans", sans-serif' fill="#000" stroke="#000" stroke-width="0.25" >si-NC</text>
<rect x="81.90" y="812.80" width="17.80" height="8.90" fill="#a3a3a3" stroke="#000" stroke-width="2.2"/>
<text transform="translate(109.60,821.30) scale(1.1193,1)" font-size="12.00" font-weight="normal" font-family='"Liberation Sans", sans-serif' fill="#000" stroke="#000" stroke-width="0.25" >si-CXCR4</text>
<rect x="81.90" y="826.90" width="17.80" height="8.60" fill="#646464" stroke="#000" stroke-width="2.2"/>
<text transform="translate(109.59,835.20) scale(1.1333,1)" font-size="12.00" font-weight="normal" font-family='"Liberation Sans", sans-serif' fill="#000" stroke="#000" stroke-width="0.25" >si-CXCR4+in-miR-NC</text>
<rect x="81.90" y="841.70" width="17.80" height="9.00" fill="#000000" stroke="#000" stroke-width="2.2"/>
<text transform="translate(109.59,849.90) scale(1.1341,1)" font-size="12.00" font-weight="normal" font-family='"Liberation Sans", sans-serif' fill="#000" stroke="#000" stroke-width="0.25" >si-CXCR4+in-miR-133b</text>
<text transform="translate(79.62,991.00) scale(1.0245,1)" font-size="15.59" font-weight="bold" font-family='"Liberation Sans", sans-serif' fill="#000" >SCC25/CDDP</text>
<text transform="translate(191.31,991.00) scale(1.0206,1)" font-size="15.59" font-weight="bold" font-family='"Liberation Sans", sans-serif' fill="#000" >CAL27/CDDP</text>
<line x1="422.70" y1="801.80" x2="422.70" y2="969.40" stroke="#000" stroke-width="2.0"/>
<line x1="421.70" y1="968.40" x2="651.50" y2="968.40" stroke="#000" stroke-width="2.0"/>
<line x1="418.30" y1="802.80" x2="422.70" y2="802.80" stroke="#000" stroke-width="2.0"/>
<text transform="translate(392.02,808.10) scale(1.0900,1)" font-size="14.60" font-weight="bold" font-family='"Liberation Sans", sans-serif' fill="#000" >2.0</text>
<line x1="418.30" y1="844.20" x2="422.70" y2="844.20" stroke="#000" stroke-width="2.0"/>
<text transform="translate(391.78,849.50) scale(1.0900,1)" font-size="14.60" font-weight="bold" font-family='"Liberation Sans", sans-serif' fill="#000" >1.5</text>
<line x1="418.30" y1="885.50" x2="422.70" y2="885.50" stroke="#000" stroke-width="2.0"/>
<text transform="translate(392.02,890.80) scale(1.0900,1)" font-size="14.60" font-weight="bold" font-family='"Liberation Sans", sans-serif' fill="#000" >1.0</text>
<line x1="418.30" y1="926.90" x2="422.70" y2="926.90" stroke="#000" stroke-width="2.0"/>
<text transform="translate(391.78,932.20) scale(1.0900,1)" font-size="14.60" font-weight="bold" font-family='"Liberation Sans", sans-serif' fill="#000" >0.5</text>
<line x1="418.30" y1="968.60" x2="422.70" y2="968.60" stroke="#000" stroke-width="2.0"/>
<text transform="translate(392.02,973.90) scale(1.0900,1)" font-size="14.60" font-weight="bold" font-family='"Liberation Sans", sans-serif' fill="#000" >0.0</text>
<line x1="479.80" y1="968.40" x2="479.80" y2="973.20" stroke="#000" stroke-width="2.0"/>
<line x1="594.00" y1="968.40" x2="594.00" y2="973.20" stroke="#000" stroke-width="2.0"/>
<line x1="443.30" y1="877.40" x2="443.30" y2="885.70" stroke="#000" stroke-width="2.0"/>
<line x1="439.80" y1="877.40" x2="446.80" y2="877.40" stroke="#000" stroke-width="2.0"/>
<rect x="435.30" y="885.70" width="16.00" height="82.70" fill="#ffffff" stroke="#000" stroke-width="2.0"/>
<line x1="467.70" y1="942.50" x2="467.70" y2="945.20" stroke="#000" stroke-width="2.0"/>
<line x1="464.20" y1="942.50" x2="471.20" y2="942.50" stroke="#000" stroke-width="2.0"/>
<rect x="459.70" y="945.20" width="16.00" height="23.20" fill="#a3a3a3" stroke="#000" stroke-width="2.0"/>
<line x1="492.30" y1="941.30" x2="492.30" y2="944.20" stroke="#000" stroke-width="2.0"/>
<line x1="488.80" y1="941.30" x2="495.80" y2="941.30" stroke="#000" stroke-width="2.0"/>
<rect x="484.30" y="944.20" width="16.00" height="24.20" fill="#646464" stroke="#000" stroke-width="2.0"/>
<line x1="516.70" y1="895.50" x2="516.70" y2="902.20" stroke="#000" stroke-width="2.0"/>
<line x1="513.20" y1="895.50" x2="520.20" y2="895.50" stroke="#000" stroke-width="2.0"/>
<rect x="508.70" y="902.20" width="16.00" height="66.20" fill="#000000" stroke="#000" stroke-width="2.0"/>
<line x1="557.20" y1="878.00" x2="557.20" y2="885.70" stroke="#000" stroke-width="2.0"/>
<line x1="553.70" y1="878.00" x2="560.70" y2="878.00" stroke="#000" stroke-width="2.0"/>
<rect x="549.20" y="885.70" width="16.00" height="82.70" fill="#ffffff" stroke="#000" stroke-width="2.0"/>
<line x1="582.00" y1="949.80" x2="582.00" y2="952.30" stroke="#000" stroke-width="2.0"/>
<line x1="578.50" y1="949.80" x2="585.50" y2="949.80" stroke="#000" stroke-width="2.0"/>
<rect x="574.00" y="952.30" width="16.00" height="16.10" fill="#a3a3a3" stroke="#000" stroke-width="2.0"/>
<line x1="606.40" y1="948.00" x2="606.40" y2="950.80" stroke="#000" stroke-width="2.0"/>
<line x1="602.90" y1="948.00" x2="609.90" y2="948.00" stroke="#000" stroke-width="2.0"/>
<rect x="598.40" y="950.80" width="16.00" height="17.60" fill="#646464" stroke="#000" stroke-width="2.0"/>
<line x1="631.50" y1="900.50" x2="631.50" y2="906.50" stroke="#000" stroke-width="2.0"/>
<line x1="628.00" y1="900.50" x2="635.00" y2="900.50" stroke="#000" stroke-width="2.0"/>
<rect x="623.50" y="906.50" width="16.00" height="61.90" fill="#000000" stroke="#000" stroke-width="2.0"/>
<line x1="443.70" y1="866.70" x2="466.90" y2="866.70" stroke="#000" stroke-width="2.4"/>
<line x1="443.70" y1="859.70" x2="443.70" y2="873.70" stroke="#000" stroke-width="2.4"/>
<line x1="466.90" y1="859.70" x2="466.90" y2="873.70" stroke="#000" stroke-width="2.4"/>
<path d="M456.30,860.80L456.30,857.50M456.30,860.80L459.44,859.78M456.30,860.80L453.16,859.78M456.30,860.80L458.24,863.47M456.30,860.80L454.36,863.47" stroke="#000" stroke-width="1.75" stroke-linecap="round" fill="none"/>
<line x1="490.20" y1="886.20" x2="516.30" y2="886.20" stroke="#000" stroke-width="2.4"/>
<line x1="490.20" y1="879.20" x2="490.20" y2="893.20" stroke="#000" stroke-width="2.4"/>
<line x1="516.30" y1="879.20" x2="516.30" y2="893.20" stroke="#000" stroke-width="2.4"/>
<path d="M504.25,880.30L504.25,877.00M504.25,880.30L507.39,879.28M504.25,880.30L501.11,879.28M504.25,880.30L506.19,882.97M504.25,880.30L502.31,882.97" stroke="#000" stroke-width="1.75" stroke-linecap="round" fill="none"/>
<line x1="556.30" y1="867.20" x2="580.90" y2="867.20" stroke="#000" stroke-width="2.4"/>
<line x1="556.30" y1="860.20" x2="556.30" y2="874.20" stroke="#000" stroke-width="2.4"/>
<line x1="580.90" y1="860.20" x2="580.90" y2="874.20" stroke="#000" stroke-width="2.4"/>
<path d="M569.60,861.30L569.60,858.00M569.60,861.30L572.74,860.28M569.60,861.30L566.46,860.28M569.60,861.30L571.54,863.97M569.60,861.30L567.66,863.97" stroke="#000" stroke-width="1.75" stroke-linecap="round" fill="none"/>
<line x1="603.10" y1="889.20" x2="629.40" y2="889.20" stroke="#000" stroke-width="2.4"/>
<line x1="603.10" y1="882.20" x2="603.10" y2="896.20" stroke="#000" stroke-width="2.4"/>
<line x1="629.40" y1="882.20" x2="629.40" y2="896.20" stroke="#000" stroke-width="2.4"/>
<path d="M617.25,883.30L617.25,880.00M617.25,883.30L620.39,882.28M617.25,883.30L614.11,882.28M617.25,883.30L619.19,885.97M617.25,883.30L615.31,885.97" stroke="#000" stroke-width="1.75" stroke-linecap="round" fill="none"/>
<rect x="427.20" y="803.50" width="18.30" height="9.30" fill="#ffffff" stroke="#000" stroke-width="2.2"/>
<text transform="translate(455.40,812.10) scale(1.2667,1)" font-size="10.48" font-weight="normal" font-family='"Liberation Sans", sans-serif' fill="#000" stroke="#000" stroke-width="0.25" >si-NC</text>
<rect x="427.20" y="815.70" width="18.30" height="9.20" fill="#a3a3a3" stroke="#000" stroke-width="2.2"/>
<text transform="translate(455.42,823.60) scale(1.2108,1)" font-size="10.48" font-weight="normal" font-family='"Liberation Sans", sans-serif' fill="#000" stroke="#000" stroke-width="0.25" >si-TUG1</text>
<rect x="427.20" y="827.60" width="18.30" height="9.00" fill="#646464" stroke="#000" stroke-width="2.2"/>
<text transform="translate(455.40,834.80) scale(1.2841,1)" font-size="10.48" font-weight="normal" font-family='"Liberation Sans", sans-serif' fill="#000" stroke="#000" stroke-width="0.25" >si-TUG1+in-miR-NC</text>
<rect x="427.20" y="838.90" width="18.30" height="9.00" fill="#000000" stroke="#000" stroke-width="2.2"/>
<text transform="translate(455.40,846.90) scale(1.2870,1)" font-size="10.48" font-weight="normal" font-family='"Liberation Sans", sans-serif' fill="#000" stroke="#000" stroke-width="0.25" >si-TUG1+in-miR-133b</text>
<text transform="translate(428.97,988.00) scale(1.0226,1)" font-size="15.72" font-weight="bold" font-family='"Liberation Sans", sans-serif' fill="#000" >SCC25/CDDP</text>
<text transform="translate(543.76,988.00) scale(1.0229,1)" font-size="15.72" font-weight="bold" font-family='"Liberation Sans", sans-serif' fill="#000" >CAL27/CDDP</text>
<text transform="translate(31.80,455.30) rotate(-90) scale(0.8974,1)" font-size="18.86" font-weight="bold" font-family='"Liberation Sans", sans-serif' fill="#000">IC</text>
<text transform="translate(35.40,436.78) rotate(-90) scale(1.0212,1)" font-size="12.43" font-weight="bold" font-family='"Liberation Sans", sans-serif' fill="#000">50</text>
<text transform="translate(30.71,418.59) rotate(-90) scale(0.9309,1)" font-size="18.50" font-weight="bold" font-family='"Liberation Sans", sans-serif' fill="#000">of Cisplatin (μM)</text>
<text transform="translate(380.64,719.49) rotate(-90) scale(0.9852,1)" font-size="17.43" font-weight="bold" font-family='"Liberation Sans", sans-serif' fill="#000">Cell invasion ability (%)</text>
<text transform="translate(41.52,959.74) rotate(-90) scale(1.0605,1)" font-size="16.58" font-weight="bold" font-family='"Liberation Sans", sans-serif' fill="#000">Apoptosis rate (%)</text>
<text transform="translate(359.60,965.83) rotate(-90) scale(1.0826,1)" font-size="17.66" font-weight="normal" font-family='"Liberation Sans", sans-serif' fill="#000" stroke="#000" stroke-width="0.45">Relative expression</text>
<text transform="translate(382.40,945.51) rotate(-90) scale(1.0050,1)" font-size="18.48" font-weight="normal" font-family='"Liberation Sans", sans-serif' fill="#000" stroke="#000" stroke-width="0.45">level of CXCR4</text>
<text transform="translate(9.78,789.50) scale(1.0198,1)" font-size="20.00" font-weight="bold" font-family='"Liberation Sans", sans-serif' fill="#000">g</text>
<text transform="translate(343.89,770.60) scale(1.0465,1)" font-size="19.31" font-weight="bold" font-family='"Liberation Sans", sans-serif' fill="#000">h</text>
<text transform="translate(340.48,272.40) scale(1.0512,1)" font-size="19.59" font-weight="bold" font-family='"Liberation Sans", sans-serif' fill="#000">d</text>
<text transform="translate(6.04,522.00) scale(1.0729,1)" font-size="20.00" font-weight="bold" font-family='"Liberation Sans", sans-serif' fill="#000">e</text>
<rect x="428.10" y="1.00" width="106.10" height="19.30" fill="#cacaca" stroke="none" stroke-width="0"/>
<rect x="536.20" y="1.00" width="105.60" height="19.30" fill="#cacaca" stroke="none" stroke-width="0"/>
<rect x="428.10" y="23.00" width="106.10" height="18.00" fill="#cacaca" stroke="none" stroke-width="0"/>
<rect x="536.20" y="23.00" width="105.60" height="18.00" fill="#cacaca" stroke="none" stroke-width="0"/>
<rect x="430.70" y="7.00" width="17.60" height="5.60" rx="2.80" fill="#0a0a0a" filter="url(#bl)"/>
<rect x="457.10" y="7.80" width="18.00" height="3.80" rx="1.90" fill="#262626" filter="url(#bl)"/>
<rect x="485.30" y="8.85" width="18.60" height="3.70" rx="1.85" fill="#262626" filter="url(#bl)"/>
<rect x="511.50" y="7.75" width="19.60" height="4.90" rx="2.45" fill="#0a0a0a" filter="url(#bl)"/>
<rect x="539.90" y="7.75" width="15.00" height="4.30" rx="2.15" fill="#0a0a0a" filter="url(#bl)"/>
<rect x="565.90" y="8.30" width="16.80" height="3.00" rx="1.50" fill="#333333" filter="url(#bl)"/>
<rect x="594.50" y="8.85" width="17.20" height="3.10" rx="1.55" fill="#333333" filter="url(#bl)"/>
<rect x="620.80" y="8.10" width="17.90" height="4.60" rx="2.30" fill="#0a0a0a" filter="url(#bl)"/>
<rect x="430.30" y="27.40" width="20.00" height="7.60" rx="3.50" fill="#0a0a0a" filter="url(#bl)"/>
<rect x="457.50" y="27.40" width="19.50" height="7.60" rx="3.50" fill="#0a0a0a" filter="url(#bl)"/>
<rect x="485.70" y="27.90" width="19.60" height="7.00" rx="3.50" fill="#0a0a0a" filter="url(#bl)"/>
<rect x="511.50" y="28.00" width="19.40" height="6.80" rx="3.40" fill="#0a0a0a" filter="url(#bl)"/>
<rect x="539.70" y="28.30" width="17.80" height="5.60" rx="2.80" fill="#0a0a0a" filter="url(#bl)"/>
<rect x="565.50" y="27.60" width="19.60" height="6.00" rx="3.00" fill="#0a0a0a" filter="url(#bl)"/>
<rect x="593.90" y="27.60" width="19.20" height="6.00" rx="3.00" fill="#0a0a0a" filter="url(#bl)"/>
<rect x="620.10" y="27.60" width="19.10" height="6.00" rx="3.00" fill="#0a0a0a" filter="url(#bl)"/>
<text transform="translate(372.83,13.60) scale(1.0186,1)" font-size="14.00" font-weight="bold" font-family='"Liberation Sans", sans-serif' fill="#000" >CXCR4</text>
<text transform="translate(373.63,34.12) scale(1.5623,1)" font-size="11.52" font-weight="normal" font-family='"Liberation Serif", serif' fill="#000">β</text>
<text transform="translate(382.88,34.40) scale(1.3291,1)" font-size="11.59" font-weight="bold" font-family='"Liberation Sans", sans-serif' fill="#000" >-actin</text>
<text transform="translate(647.11,18.40) scale(1.0659,1)" font-size="13.79" font-weight="normal" font-family='"Liberation Sans", sans-serif' fill="#000" stroke="#000" stroke-width="0.25" >39kDa</text>
<text transform="translate(646.12,38.30) scale(1.0799,1)" font-size="13.93" font-weight="normal" font-family='"Liberation Sans", sans-serif' fill="#000" stroke="#000" stroke-width="0.25" >42kDa</text>
<rect x="428.10" y="752.10" width="106.40" height="18.80" fill="#cacaca" stroke="none" stroke-width="0"/>
<rect x="539.30" y="752.00" width="105.30" height="18.70" fill="#cacaca" stroke="none" stroke-width="0"/>
<rect x="428.10" y="773.70" width="106.40" height="18.80" fill="#cacaca" stroke="none" stroke-width="0"/>
<rect x="539.30" y="773.40" width="105.30" height="18.80" fill="#cacaca" stroke="none" stroke-width="0"/>
<rect x="430.90" y="756.40" width="18.80" height="7.60" rx="3.50" fill="#0a0a0a" filter="url(#bl)"/>
<rect x="456.50" y="758.90" width="18.30" height="3.80" rx="1.90" fill="#262626" filter="url(#bl)"/>
<rect x="484.10" y="758.95" width="18.70" height="3.70" rx="1.85" fill="#262626" filter="url(#bl)"/>
<rect x="510.50" y="757.70" width="20.20" height="7.60" rx="3.50" fill="#0a0a0a" filter="url(#bl)"/>
<rect x="542.40" y="757.90" width="17.60" height="5.80" rx="2.90" fill="#0a0a0a" filter="url(#bl)"/>
<rect x="568.00" y="759.65" width="18.10" height="3.30" rx="1.65" fill="#333333" filter="url(#bl)"/>
<rect x="595.50" y="759.15" width="18.10" height="3.30" rx="1.65" fill="#333333" filter="url(#bl)"/>
<rect x="623.00" y="758.60" width="18.10" height="6.40" rx="3.20" fill="#0a0a0a" filter="url(#bl)"/>
<rect x="432.10" y="778.60" width="18.40" height="7.00" rx="3.50" fill="#0a0a0a" filter="url(#bl)"/>
<rect x="457.80" y="779.00" width="19.00" height="7.00" rx="3.50" fill="#0a0a0a" filter="url(#bl)"/>
<rect x="484.70" y="778.60" width="18.50" height="7.00" rx="3.50" fill="#0a0a0a" filter="url(#bl)"/>
<rect x="511.10" y="779.00" width="19.00" height="7.00" rx="3.50" fill="#0a0a0a" filter="url(#bl)"/>
<rect x="542.40" y="779.10" width="17.60" height="6.40" rx="3.20" fill="#0a0a0a" filter="url(#bl)"/>
<rect x="568.00" y="779.40" width="18.80" height="6.60" rx="3.30" fill="#0a0a0a" filter="url(#bl)"/>
<rect x="595.50" y="779.10" width="18.50" height="6.40" rx="3.20" fill="#0a0a0a" filter="url(#bl)"/>
<rect x="623.00" y="779.40" width="18.50" height="6.60" rx="3.30" fill="#0a0a0a" filter="url(#bl)"/>
<text transform="translate(374.43,766.00) scale(1.0597,1)" font-size="13.43" font-weight="bold" font-family='"Liberation Sans", sans-serif' fill="#000" >CXCR4</text>
<text transform="translate(373.89,786.84) scale(1.3254,1)" font-size="12.83" font-weight="normal" font-family='"Liberation Serif", serif' fill="#000">β</text>
<text transform="translate(383.67,787.10) scale(1.2187,1)" font-size="12.83" font-weight="bold" font-family='"Liberation Sans", sans-serif' fill="#000" >-actin</text>
<text transform="translate(647.82,764.70) scale(1.0275,1)" font-size="14.07" font-weight="normal" font-family='"Liberation Sans", sans-serif' fill="#000" stroke="#000" stroke-width="0.25" >39kDa</text>
<text transform="translate(647.33,786.50) scale(1.0710,1)" font-size="13.66" font-weight="normal" font-family='"Liberation Sans", sans-serif' fill="#000" stroke="#000" stroke-width="0.25" >42kDa</text>
<line x1="422.80" y1="287.00" x2="422.80" y2="455.70" stroke="#000" stroke-width="2.0"/>
<line x1="421.80" y1="454.70" x2="644.40" y2="454.70" stroke="#000" stroke-width="2.0"/>
<line x1="418.40" y1="288.00" x2="422.80" y2="288.00" stroke="#000" stroke-width="2.0"/>
<text transform="translate(392.72,293.30) scale(1.0900,1)" font-size="14.60" font-weight="bold" font-family='"Liberation Sans", sans-serif' fill="#000" >2.0</text>
<line x1="418.40" y1="329.70" x2="422.80" y2="329.70" stroke="#000" stroke-width="2.0"/>
<text transform="translate(392.48,335.00) scale(1.0900,1)" font-size="14.60" font-weight="bold" font-family='"Liberation Sans", sans-serif' fill="#000" >1.5</text>
<line x1="418.40" y1="371.30" x2="422.80" y2="371.30" stroke="#000" stroke-width="2.0"/>
<text transform="translate(392.72,376.60) scale(1.0900,1)" font-size="14.60" font-weight="bold" font-family='"Liberation Sans", sans-serif' fill="#000" >1.0</text>
<line x1="418.40" y1="413.00" x2="422.80" y2="413.00" stroke="#000" stroke-width="2.0"/>
<text transform="translate(392.48,418.30) scale(1.0900,1)" font-size="14.60" font-weight="bold" font-family='"Liberation Sans", sans-serif' fill="#000" >0.5</text>
<line x1="418.40" y1="454.70" x2="422.80" y2="454.70" stroke="#000" stroke-width="2.0"/>
<text transform="translate(392.72,460.00) scale(1.0900,1)" font-size="14.60" font-weight="bold" font-family='"Liberation Sans", sans-serif' fill="#000" >0.0</text>
<line x1="444.70" y1="454.70" x2="444.70" y2="459.30" stroke="#000" stroke-width="2.0"/>
<line x1="489.00" y1="454.70" x2="489.00" y2="459.30" stroke="#000" stroke-width="2.0"/>
<line x1="533.30" y1="454.70" x2="533.30" y2="459.30" stroke="#000" stroke-width="2.0"/>
<line x1="577.60" y1="454.70" x2="577.60" y2="459.30" stroke="#000" stroke-width="2.0"/>
<line x1="621.80" y1="454.70" x2="621.80" y2="459.30" stroke="#000" stroke-width="2.0"/>
<text transform="translate(440.36,478.40) scale(1.0667,1)" font-size="15.00" font-weight="bold" font-family='"Liberation Sans", sans-serif' fill="#000" >0</text>
<text transform="translate(479.57,478.40) scale(1.0031,1)" font-size="15.00" font-weight="bold" font-family='"Liberation Sans", sans-serif' fill="#000" >24</text>
<text transform="translate(525.15,478.40) scale(1.1017,1)" font-size="15.00" font-weight="bold" font-family='"Liberation Sans", sans-serif' fill="#000" >48</text>
<text transform="translate(569.88,478.40) scale(1.0602,1)" font-size="15.00" font-weight="bold" font-family='"Liberation Sans", sans-serif' fill="#000" >72</text>
<text transform="translate(600.02,478.40) scale(1.1379,1)" font-size="14.48" font-weight="bold" font-family='"Liberation Sans", sans-serif' fill="#000" >96 (h)</text>
<polyline points="444.70,433.86 489.00,413.02 533.30,376.35 577.60,353.01 621.80,330.09" fill="none" stroke="#000" stroke-width="2.0" stroke-linejoin="round"/>
<polyline points="444.70,438.03 489.00,428.86 533.30,413.02 577.60,390.52 621.80,378.02" fill="none" stroke="#000" stroke-width="2.0" stroke-linejoin="round"/>
<polyline points="444.70,438.03 489.00,425.53 533.30,409.69 577.60,392.19 621.80,379.69" fill="none" stroke="#ec1c24" stroke-width="2.0" stroke-linejoin="round"/>
<polyline points="444.70,436.36 489.00,422.19 533.30,385.52 577.60,368.85 621.80,343.84" fill="none" stroke="#ec1c24" stroke-width="2.0" stroke-linejoin="round"/>
<line x1="444.70" y1="434.70" x2="444.70" y2="438.03" stroke="#ec1c24" stroke-width="2.3"/>
<line x1="441.40" y1="434.70" x2="448.00" y2="434.70" stroke="#ec1c24" stroke-width="2.3"/>
<line x1="441.40" y1="438.03" x2="448.00" y2="438.03" stroke="#ec1c24" stroke-width="2.3"/>
<polygon points="444.70,440.08 448.30,433.88 441.10,433.88" fill="#ec1c24"/>
<line x1="489.00" y1="418.03" x2="489.00" y2="426.36" stroke="#ec1c24" stroke-width="2.3"/>
<line x1="485.70" y1="418.03" x2="492.30" y2="418.03" stroke="#ec1c24" stroke-width="2.3"/>
<line x1="485.70" y1="426.36" x2="492.30" y2="426.36" stroke="#ec1c24" stroke-width="2.3"/>
<polygon points="489.00,425.91 492.60,419.71 485.40,419.71" fill="#ec1c24"/>
<line x1="533.30" y1="377.18" x2="533.30" y2="393.85" stroke="#ec1c24" stroke-width="2.3"/>
<line x1="530.00" y1="377.18" x2="536.60" y2="377.18" stroke="#ec1c24" stroke-width="2.3"/>
<line x1="530.00" y1="393.85" x2="536.60" y2="393.85" stroke="#ec1c24" stroke-width="2.3"/>
<polygon points="533.30,389.24 536.90,383.04 529.70,383.04" fill="#ec1c24"/>
<line x1="577.60" y1="362.18" x2="577.60" y2="375.52" stroke="#ec1c24" stroke-width="2.3"/>
<line x1="574.30" y1="362.18" x2="580.90" y2="362.18" stroke="#ec1c24" stroke-width="2.3"/>
<line x1="574.30" y1="375.52" x2="580.90" y2="375.52" stroke="#ec1c24" stroke-width="2.3"/>
<polygon points="577.60,372.57 581.20,366.37 574.00,366.37" fill="#ec1c24"/>
<line x1="621.80" y1="333.01" x2="621.80" y2="354.68" stroke="#ec1c24" stroke-width="2.3"/>
<line x1="618.50" y1="333.01" x2="625.10" y2="333.01" stroke="#ec1c24" stroke-width="2.3"/>
<line x1="618.50" y1="354.68" x2="625.10" y2="354.68" stroke="#ec1c24" stroke-width="2.3"/>
<polygon points="621.80,347.56 625.40,341.36 618.20,341.36" fill="#ec1c24"/>
<line x1="444.70" y1="436.36" x2="444.70" y2="439.70" stroke="#ec1c24" stroke-width="2.3"/>
<line x1="441.40" y1="436.36" x2="448.00" y2="436.36" stroke="#ec1c24" stroke-width="2.3"/>
<line x1="441.40" y1="439.70" x2="448.00" y2="439.70" stroke="#ec1c24" stroke-width="2.3"/>
<rect x="441.30" y="434.63" width="6.80" height="6.80" fill="#ec1c24"/>
<line x1="489.00" y1="422.19" x2="489.00" y2="428.86" stroke="#ec1c24" stroke-width="2.3"/>
<line x1="485.70" y1="422.19" x2="492.30" y2="422.19" stroke="#ec1c24" stroke-width="2.3"/>
<line x1="485.70" y1="428.86" x2="492.30" y2="428.86" stroke="#ec1c24" stroke-width="2.3"/>
<rect x="485.60" y="422.13" width="6.80" height="6.80" fill="#ec1c24"/>
<line x1="533.30" y1="406.36" x2="533.30" y2="413.02" stroke="#ec1c24" stroke-width="2.3"/>
<line x1="530.00" y1="406.36" x2="536.60" y2="406.36" stroke="#ec1c24" stroke-width="2.3"/>
<line x1="530.00" y1="413.02" x2="536.60" y2="413.02" stroke="#ec1c24" stroke-width="2.3"/>
<rect x="529.90" y="406.29" width="6.80" height="6.80" fill="#ec1c24"/>
<line x1="577.60" y1="385.10" x2="577.60" y2="399.27" stroke="#ec1c24" stroke-width="2.3"/>
<line x1="574.30" y1="385.10" x2="580.90" y2="385.10" stroke="#ec1c24" stroke-width="2.3"/>
<line x1="574.30" y1="399.27" x2="580.90" y2="399.27" stroke="#ec1c24" stroke-width="2.3"/>
<rect x="574.20" y="388.79" width="6.80" height="6.80" fill="#ec1c24"/>
<line x1="621.80" y1="371.52" x2="621.80" y2="387.85" stroke="#ec1c24" stroke-width="2.3"/>
<line x1="618.50" y1="371.52" x2="625.10" y2="371.52" stroke="#ec1c24" stroke-width="2.3"/>
<line x1="618.50" y1="387.85" x2="625.10" y2="387.85" stroke="#ec1c24" stroke-width="2.3"/>
<rect x="618.40" y="376.29" width="6.80" height="6.80" fill="#ec1c24"/>
<line x1="444.70" y1="436.36" x2="444.70" y2="439.70" stroke="#000" stroke-width="2.3"/>
<line x1="441.40" y1="436.36" x2="448.00" y2="436.36" stroke="#000" stroke-width="2.3"/>
<line x1="441.40" y1="439.70" x2="448.00" y2="439.70" stroke="#000" stroke-width="2.3"/>
<polygon points="444.70,434.19 448.30,440.59 441.10,440.59" fill="#000"/>
<line x1="489.00" y1="426.36" x2="489.00" y2="431.36" stroke="#000" stroke-width="2.3"/>
<line x1="485.70" y1="426.36" x2="492.30" y2="426.36" stroke="#000" stroke-width="2.3"/>
<line x1="485.70" y1="431.36" x2="492.30" y2="431.36" stroke="#000" stroke-width="2.3"/>
<polygon points="489.00,425.02 492.60,431.42 485.40,431.42" fill="#000"/>
<line x1="533.30" y1="409.69" x2="533.30" y2="416.36" stroke="#000" stroke-width="2.3"/>
<line x1="530.00" y1="409.69" x2="536.60" y2="409.69" stroke="#000" stroke-width="2.3"/>
<line x1="530.00" y1="416.36" x2="536.60" y2="416.36" stroke="#000" stroke-width="2.3"/>
<polygon points="533.30,409.19 536.90,415.58 529.70,415.58" fill="#000"/>
<line x1="577.60" y1="383.44" x2="577.60" y2="397.61" stroke="#000" stroke-width="2.3"/>
<line x1="574.30" y1="383.44" x2="580.90" y2="383.44" stroke="#000" stroke-width="2.3"/>
<line x1="574.30" y1="397.61" x2="580.90" y2="397.61" stroke="#000" stroke-width="2.3"/>
<polygon points="577.60,386.68 581.20,393.08 574.00,393.08" fill="#000"/>
<line x1="621.80" y1="370.35" x2="621.80" y2="385.69" stroke="#000" stroke-width="2.3"/>
<line x1="618.50" y1="370.35" x2="625.10" y2="370.35" stroke="#000" stroke-width="2.3"/>
<line x1="618.50" y1="385.69" x2="625.10" y2="385.69" stroke="#000" stroke-width="2.3"/>
<polygon points="621.80,374.18 625.40,380.58 618.20,380.58" fill="#000"/>
<line x1="444.70" y1="432.20" x2="444.70" y2="435.53" stroke="#000" stroke-width="2.3"/>
<line x1="441.40" y1="432.20" x2="448.00" y2="432.20" stroke="#000" stroke-width="2.3"/>
<line x1="441.40" y1="435.53" x2="448.00" y2="435.53" stroke="#000" stroke-width="2.3"/>
<circle cx="444.70" cy="433.86" r="3.10" fill="#000"/>
<line x1="489.00" y1="408.86" x2="489.00" y2="417.19" stroke="#000" stroke-width="2.3"/>
<line x1="485.70" y1="408.86" x2="492.30" y2="408.86" stroke="#000" stroke-width="2.3"/>
<line x1="485.70" y1="417.19" x2="492.30" y2="417.19" stroke="#000" stroke-width="2.3"/>
<circle cx="489.00" cy="413.02" r="3.10" fill="#000"/>
<line x1="533.30" y1="368.02" x2="533.30" y2="384.69" stroke="#000" stroke-width="2.3"/>
<line x1="530.00" y1="368.02" x2="536.60" y2="368.02" stroke="#000" stroke-width="2.3"/>
<line x1="530.00" y1="384.69" x2="536.60" y2="384.69" stroke="#000" stroke-width="2.3"/>
<circle cx="533.30" cy="376.35" r="3.10" fill="#000"/>
<line x1="577.60" y1="343.01" x2="577.60" y2="363.01" stroke="#000" stroke-width="2.3"/>
<line x1="574.30" y1="343.01" x2="580.90" y2="343.01" stroke="#000" stroke-width="2.3"/>
<line x1="574.30" y1="363.01" x2="580.90" y2="363.01" stroke="#000" stroke-width="2.3"/>
<circle cx="577.60" cy="353.01" r="3.10" fill="#000"/>
<line x1="621.80" y1="317.92" x2="621.80" y2="342.26" stroke="#000" stroke-width="2.3"/>
<line x1="618.50" y1="317.92" x2="625.10" y2="317.92" stroke="#000" stroke-width="2.3"/>
<line x1="618.50" y1="342.26" x2="625.10" y2="342.26" stroke="#000" stroke-width="2.3"/>
<circle cx="621.80" cy="330.09" r="3.10" fill="#000"/>
<line x1="432.80" y1="288.30" x2="450.70" y2="288.30" stroke="#000" stroke-width="1.8"/>
<circle cx="441.60" cy="288.30" r="3.10" fill="#000"/>
<text transform="translate(460.20,293.00) scale(1.0663,1)" font-size="12.41" font-weight="normal" font-family='"Liberation Sans", sans-serif' fill="#000" stroke="#000" stroke-width="0.25" >si-NC</text>
<line x1="432.80" y1="302.60" x2="450.70" y2="302.60" stroke="#000" stroke-width="1.8"/>
<polygon points="441.60,298.76 445.20,305.16 438.00,305.16" fill="#000"/>
<text transform="translate(460.20,307.40) scale(1.0857,1)" font-size="12.41" font-weight="normal" font-family='"Liberation Sans", sans-serif' fill="#000" stroke="#000" stroke-width="0.25" >si-CXCR4</text>
<line x1="432.80" y1="319.40" x2="450.70" y2="319.40" stroke="#ec1c24" stroke-width="1.8"/>
<rect x="438.20" y="316.00" width="6.80" height="6.80" fill="#ec1c24"/>
<text transform="translate(460.19,323.60) scale(1.0989,1)" font-size="12.41" font-weight="normal" font-family='"Liberation Sans", sans-serif' fill="#000" stroke="#000" stroke-width="0.25" >si-CXCR4+in-miR-NC</text>
<line x1="432.80" y1="333.20" x2="450.70" y2="333.20" stroke="#ec1c24" stroke-width="1.8"/>
<polygon points="441.60,336.92 445.20,330.72 438.00,330.72" fill="#ec1c24"/>
<text transform="translate(460.19,337.60) scale(1.0939,1)" font-size="12.41" font-weight="normal" font-family='"Liberation Sans", sans-serif' fill="#000" stroke="#000" stroke-width="0.25" >si-CXCR4+in-miR-133b</text>
<line x1="633.30" y1="344.70" x2="633.30" y2="378.60" stroke="#000" stroke-width="2.0"/>
<line x1="626.10" y1="344.70" x2="640.30" y2="344.70" stroke="#000" stroke-width="2.0"/>
<line x1="626.10" y1="378.60" x2="640.30" y2="378.60" stroke="#000" stroke-width="2.0"/>
<path d="M639.50,363.80L639.50,360.50M639.50,363.80L642.64,362.78M639.50,363.80L636.36,362.78M639.50,363.80L641.44,366.47M639.50,363.80L637.56,366.47" stroke="#000" stroke-width="1.75" stroke-linecap="round" fill="none"/>
<line x1="646.40" y1="325.80" x2="646.40" y2="383.70" stroke="#000" stroke-width="2.0"/>
<line x1="639.30" y1="325.80" x2="653.30" y2="325.80" stroke="#000" stroke-width="2.0"/>
<line x1="639.30" y1="383.70" x2="653.30" y2="383.70" stroke="#000" stroke-width="2.0"/>
<path d="M652.20,356.20L652.20,352.90M652.20,356.20L655.34,355.18M652.20,356.20L649.06,355.18M652.20,356.20L654.14,358.87M652.20,356.20L650.26,358.87" stroke="#000" stroke-width="1.75" stroke-linecap="round" fill="none"/>
<text transform="translate(481.72,263.50) scale(1.0949,1)" font-size="14.76" font-weight="bold" font-family='"Liberation Sans", sans-serif' fill="#000" >SCC25/CDDP</text>
<g transform="translate(381.45,456.52) rotate(-90) scale(1.0960,1)"><text x="0.00" y="0.00" font-size="16.42" font-weight="bold" font-family='"Liberation Sans", sans-serif' fill="#000">OD value (</text><text x="81.22" y="0.00" font-size="17.24" font-weight="bold" font-family='"Liberation Serif", serif' fill="#000">λ</text><text x="89.69" y="0.00" font-size="16.42" font-weight="bold" font-family='"Liberation Sans", sans-serif' fill="#000">=450 nm)</text></g>
<line x1="74.00" y1="542.50" x2="74.00" y2="709.70" stroke="#000" stroke-width="2.0"/>
<line x1="73.00" y1="708.70" x2="303.70" y2="708.70" stroke="#000" stroke-width="2.0"/>
<line x1="69.60" y1="543.50" x2="74.00" y2="543.50" stroke="#000" stroke-width="2.0"/>
<text transform="translate(44.32,548.80) scale(1.0900,1)" font-size="14.60" font-weight="bold" font-family='"Liberation Sans", sans-serif' fill="#000" >2.0</text>
<line x1="69.60" y1="584.80" x2="74.00" y2="584.80" stroke="#000" stroke-width="2.0"/>
<text transform="translate(44.08,590.10) scale(1.0900,1)" font-size="14.60" font-weight="bold" font-family='"Liberation Sans", sans-serif' fill="#000" >1.5</text>
<line x1="69.60" y1="626.10" x2="74.00" y2="626.10" stroke="#000" stroke-width="2.0"/>
<text transform="translate(44.32,631.40) scale(1.0900,1)" font-size="14.60" font-weight="bold" font-family='"Liberation Sans", sans-serif' fill="#000" >1.0</text>
<line x1="69.60" y1="667.40" x2="74.00" y2="667.40" stroke="#000" stroke-width="2.0"/>
<text transform="translate(44.08,672.70) scale(1.0900,1)" font-size="14.60" font-weight="bold" font-family='"Liberation Sans", sans-serif' fill="#000" >0.5</text>
<line x1="69.60" y1="708.70" x2="74.00" y2="708.70" stroke="#000" stroke-width="2.0"/>
<text transform="translate(44.32,714.00) scale(1.0900,1)" font-size="14.60" font-weight="bold" font-family='"Liberation Sans", sans-serif' fill="#000" >0.0</text>
<line x1="96.70" y1="708.70" x2="96.70" y2="713.30" stroke="#000" stroke-width="2.0"/>
<line x1="142.50" y1="708.70" x2="142.50" y2="713.30" stroke="#000" stroke-width="2.0"/>
<line x1="188.40" y1="708.70" x2="188.40" y2="713.30" stroke="#000" stroke-width="2.0"/>
<line x1="234.20" y1="708.70" x2="234.20" y2="713.30" stroke="#000" stroke-width="2.0"/>
<line x1="280.40" y1="708.70" x2="280.40" y2="713.30" stroke="#000" stroke-width="2.0"/>
<text transform="translate(92.58,732.30) scale(1.0486,1)" font-size="14.86" font-weight="bold" font-family='"Liberation Sans", sans-serif' fill="#000" >0</text>
<text transform="translate(133.46,732.30) scale(1.0379,1)" font-size="14.86" font-weight="bold" font-family='"Liberation Sans", sans-serif' fill="#000" >24</text>
<text transform="translate(176.55,732.30) scale(1.1060,1)" font-size="14.86" font-weight="bold" font-family='"Liberation Sans", sans-serif' fill="#000" >48</text>
<text transform="translate(222.25,732.30) scale(1.1229,1)" font-size="14.86" font-weight="bold" font-family='"Liberation Sans", sans-serif' fill="#000" >72</text>
<text transform="translate(258.82,732.30) scale(1.1488,1)" font-size="14.34" font-weight="bold" font-family='"Liberation Sans", sans-serif' fill="#000" >96 (h)</text>
<polyline points="96.70,692.18 142.50,659.14 188.40,627.34 234.20,607.10 280.40,577.78" fill="none" stroke="#000" stroke-width="2.0" stroke-linejoin="round"/>
<polyline points="96.70,692.18 142.50,675.66 188.40,663.27 234.20,646.75 280.40,629.82" fill="none" stroke="#000" stroke-width="2.0" stroke-linejoin="round"/>
<polyline points="96.70,689.54 142.50,672.36 188.40,665.75 234.20,643.45 280.40,631.47" fill="none" stroke="#ec1c24" stroke-width="2.0" stroke-linejoin="round"/>
<polyline points="96.70,690.53 142.50,662.44 188.40,641.38 234.20,624.45 280.40,598.43" fill="none" stroke="#ec1c24" stroke-width="2.0" stroke-linejoin="round"/>
<line x1="96.70" y1="688.88" x2="96.70" y2="692.18" stroke="#ec1c24" stroke-width="2.3"/>
<line x1="93.40" y1="688.88" x2="100.00" y2="688.88" stroke="#ec1c24" stroke-width="2.3"/>
<line x1="93.40" y1="692.18" x2="100.00" y2="692.18" stroke="#ec1c24" stroke-width="2.3"/>
<polygon points="96.70,694.25 100.30,688.05 93.10,688.05" fill="#ec1c24"/>
<line x1="142.50" y1="658.31" x2="142.50" y2="666.57" stroke="#ec1c24" stroke-width="2.3"/>
<line x1="139.20" y1="658.31" x2="145.80" y2="658.31" stroke="#ec1c24" stroke-width="2.3"/>
<line x1="139.20" y1="666.57" x2="145.80" y2="666.57" stroke="#ec1c24" stroke-width="2.3"/>
<polygon points="142.50,666.16 146.10,659.96 138.90,659.96" fill="#ec1c24"/>
<line x1="188.40" y1="634.77" x2="188.40" y2="647.99" stroke="#ec1c24" stroke-width="2.3"/>
<line x1="185.10" y1="634.77" x2="191.70" y2="634.77" stroke="#ec1c24" stroke-width="2.3"/>
<line x1="185.10" y1="647.99" x2="191.70" y2="647.99" stroke="#ec1c24" stroke-width="2.3"/>
<polygon points="188.40,645.10 192.00,638.90 184.80,638.90" fill="#ec1c24"/>
<line x1="234.20" y1="617.84" x2="234.20" y2="631.06" stroke="#ec1c24" stroke-width="2.3"/>
<line x1="230.90" y1="617.84" x2="237.50" y2="617.84" stroke="#ec1c24" stroke-width="2.3"/>
<line x1="230.90" y1="631.06" x2="237.50" y2="631.06" stroke="#ec1c24" stroke-width="2.3"/>
<polygon points="234.20,628.17 237.80,621.97 230.60,621.97" fill="#ec1c24"/>
<line x1="280.40" y1="588.52" x2="280.40" y2="608.34" stroke="#ec1c24" stroke-width="2.3"/>
<line x1="277.10" y1="588.52" x2="283.70" y2="588.52" stroke="#ec1c24" stroke-width="2.3"/>
<line x1="277.10" y1="608.34" x2="283.70" y2="608.34" stroke="#ec1c24" stroke-width="2.3"/>
<polygon points="280.40,602.15 284.00,595.95 276.80,595.95" fill="#ec1c24"/>
<line x1="96.70" y1="687.88" x2="96.70" y2="691.19" stroke="#ec1c24" stroke-width="2.3"/>
<line x1="93.40" y1="687.88" x2="100.00" y2="687.88" stroke="#ec1c24" stroke-width="2.3"/>
<line x1="93.40" y1="691.19" x2="100.00" y2="691.19" stroke="#ec1c24" stroke-width="2.3"/>
<rect x="93.30" y="686.14" width="6.80" height="6.80" fill="#ec1c24"/>
<line x1="142.50" y1="667.40" x2="142.50" y2="677.31" stroke="#ec1c24" stroke-width="2.3"/>
<line x1="139.20" y1="667.40" x2="145.80" y2="667.40" stroke="#ec1c24" stroke-width="2.3"/>
<line x1="139.20" y1="677.31" x2="145.80" y2="677.31" stroke="#ec1c24" stroke-width="2.3"/>
<rect x="139.10" y="668.96" width="6.80" height="6.80" fill="#ec1c24"/>
<line x1="188.40" y1="661.62" x2="188.40" y2="669.88" stroke="#ec1c24" stroke-width="2.3"/>
<line x1="185.10" y1="661.62" x2="191.70" y2="661.62" stroke="#ec1c24" stroke-width="2.3"/>
<line x1="185.10" y1="669.88" x2="191.70" y2="669.88" stroke="#ec1c24" stroke-width="2.3"/>
<rect x="185.00" y="662.35" width="6.80" height="6.80" fill="#ec1c24"/>
<line x1="234.20" y1="637.66" x2="234.20" y2="649.23" stroke="#ec1c24" stroke-width="2.3"/>
<line x1="230.90" y1="637.66" x2="237.50" y2="637.66" stroke="#ec1c24" stroke-width="2.3"/>
<line x1="230.90" y1="649.23" x2="237.50" y2="649.23" stroke="#ec1c24" stroke-width="2.3"/>
<rect x="230.80" y="640.05" width="6.80" height="6.80" fill="#ec1c24"/>
<line x1="280.40" y1="624.86" x2="280.40" y2="638.08" stroke="#ec1c24" stroke-width="2.3"/>
<line x1="277.10" y1="624.86" x2="283.70" y2="624.86" stroke="#ec1c24" stroke-width="2.3"/>
<line x1="277.10" y1="638.08" x2="283.70" y2="638.08" stroke="#ec1c24" stroke-width="2.3"/>
<rect x="277.00" y="628.07" width="6.80" height="6.80" fill="#ec1c24"/>
<line x1="96.70" y1="690.53" x2="96.70" y2="693.83" stroke="#000" stroke-width="2.3"/>
<line x1="93.40" y1="690.53" x2="100.00" y2="690.53" stroke="#000" stroke-width="2.3"/>
<line x1="93.40" y1="693.83" x2="100.00" y2="693.83" stroke="#000" stroke-width="2.3"/>
<polygon points="96.70,688.34 100.30,694.74 93.10,694.74" fill="#000"/>
<line x1="142.50" y1="673.18" x2="142.50" y2="678.14" stroke="#000" stroke-width="2.3"/>
<line x1="139.20" y1="673.18" x2="145.80" y2="673.18" stroke="#000" stroke-width="2.3"/>
<line x1="139.20" y1="678.14" x2="145.80" y2="678.14" stroke="#000" stroke-width="2.3"/>
<polygon points="142.50,671.82 146.10,678.22 138.90,678.22" fill="#000"/>
<line x1="188.40" y1="657.49" x2="188.40" y2="669.05" stroke="#000" stroke-width="2.3"/>
<line x1="185.10" y1="657.49" x2="191.70" y2="657.49" stroke="#000" stroke-width="2.3"/>
<line x1="185.10" y1="669.05" x2="191.70" y2="669.05" stroke="#000" stroke-width="2.3"/>
<polygon points="188.40,659.43 192.00,665.83 184.80,665.83" fill="#000"/>
<line x1="234.20" y1="640.97" x2="234.20" y2="652.53" stroke="#000" stroke-width="2.3"/>
<line x1="230.90" y1="640.97" x2="237.50" y2="640.97" stroke="#000" stroke-width="2.3"/>
<line x1="230.90" y1="652.53" x2="237.50" y2="652.53" stroke="#000" stroke-width="2.3"/>
<polygon points="234.20,642.91 237.80,649.31 230.60,649.31" fill="#000"/>
<line x1="280.40" y1="624.03" x2="280.40" y2="635.60" stroke="#000" stroke-width="2.3"/>
<line x1="277.10" y1="624.03" x2="283.70" y2="624.03" stroke="#000" stroke-width="2.3"/>
<line x1="277.10" y1="635.60" x2="283.70" y2="635.60" stroke="#000" stroke-width="2.3"/>
<polygon points="280.40,625.98 284.00,632.38 276.80,632.38" fill="#000"/>
<line x1="96.70" y1="690.53" x2="96.70" y2="693.83" stroke="#000" stroke-width="2.3"/>
<line x1="93.40" y1="690.53" x2="100.00" y2="690.53" stroke="#000" stroke-width="2.3"/>
<line x1="93.40" y1="693.83" x2="100.00" y2="693.83" stroke="#000" stroke-width="2.3"/>
<circle cx="96.70" cy="692.18" r="3.10" fill="#000"/>
<line x1="142.50" y1="653.94" x2="142.50" y2="664.34" stroke="#000" stroke-width="2.3"/>
<line x1="139.20" y1="653.94" x2="145.80" y2="653.94" stroke="#000" stroke-width="2.3"/>
<line x1="139.20" y1="664.34" x2="145.80" y2="664.34" stroke="#000" stroke-width="2.3"/>
<circle cx="142.50" cy="659.14" r="3.10" fill="#000"/>
<line x1="188.40" y1="619.08" x2="188.40" y2="635.60" stroke="#000" stroke-width="2.3"/>
<line x1="185.10" y1="619.08" x2="191.70" y2="619.08" stroke="#000" stroke-width="2.3"/>
<line x1="185.10" y1="635.60" x2="191.70" y2="635.60" stroke="#000" stroke-width="2.3"/>
<circle cx="188.40" cy="627.34" r="3.10" fill="#000"/>
<line x1="234.20" y1="597.19" x2="234.20" y2="617.01" stroke="#000" stroke-width="2.3"/>
<line x1="230.90" y1="597.19" x2="237.50" y2="597.19" stroke="#000" stroke-width="2.3"/>
<line x1="230.90" y1="617.01" x2="237.50" y2="617.01" stroke="#000" stroke-width="2.3"/>
<circle cx="234.20" cy="607.10" r="3.10" fill="#000"/>
<line x1="280.40" y1="567.04" x2="280.40" y2="588.52" stroke="#000" stroke-width="2.3"/>
<line x1="277.10" y1="567.04" x2="283.70" y2="567.04" stroke="#000" stroke-width="2.3"/>
<line x1="277.10" y1="588.52" x2="283.70" y2="588.52" stroke="#000" stroke-width="2.3"/>
<circle cx="280.40" cy="577.78" r="3.10" fill="#000"/>
<line x1="79.00" y1="544.30" x2="96.00" y2="544.30" stroke="#000" stroke-width="1.8"/>
<circle cx="87.40" cy="544.30" r="3.10" fill="#000"/>
<text transform="translate(105.59,549.00) scale(1.0929,1)" font-size="12.41" font-weight="normal" font-family='"Liberation Sans", sans-serif' fill="#000" stroke="#000" stroke-width="0.25" >si-NC</text>
<line x1="79.00" y1="557.90" x2="96.00" y2="557.90" stroke="#000" stroke-width="1.8"/>
<polygon points="87.40,554.06 91.00,560.46 83.80,560.46" fill="#000"/>
<text transform="translate(105.59,562.60) scale(1.0875,1)" font-size="12.41" font-weight="normal" font-family='"Liberation Sans", sans-serif' fill="#000" stroke="#000" stroke-width="0.25" >si-CXCR4</text>
<line x1="79.00" y1="574.00" x2="96.00" y2="574.00" stroke="#ec1c24" stroke-width="1.8"/>
<rect x="84.00" y="570.60" width="6.80" height="6.80" fill="#ec1c24"/>
<text transform="translate(105.59,578.20) scale(1.1014,1)" font-size="12.41" font-weight="normal" font-family='"Liberation Sans", sans-serif' fill="#000" stroke="#000" stroke-width="0.25" >si-CXCR4+in-miR-NC</text>
<line x1="79.00" y1="589.30" x2="96.00" y2="589.30" stroke="#ec1c24" stroke-width="1.8"/>
<polygon points="87.40,593.02 91.00,586.82 83.80,586.82" fill="#ec1c24"/>
<text transform="translate(105.59,593.60) scale(1.1001,1)" font-size="12.41" font-weight="normal" font-family='"Liberation Sans", sans-serif' fill="#000" stroke="#000" stroke-width="0.25" >si-CXCR4+in-miR-133b</text>
<line x1="292.60" y1="595.80" x2="292.60" y2="632.70" stroke="#000" stroke-width="2.0"/>
<line x1="285.00" y1="595.80" x2="299.80" y2="595.80" stroke="#000" stroke-width="2.0"/>
<line x1="285.00" y1="632.70" x2="299.80" y2="632.70" stroke="#000" stroke-width="2.0"/>
<path d="M299.10,614.80L299.10,611.50M299.10,614.80L302.24,613.78M299.10,614.80L295.96,613.78M299.10,614.80L301.04,617.47M299.10,614.80L297.16,617.47" stroke="#000" stroke-width="1.75" stroke-linecap="round" fill="none"/>
<line x1="307.80" y1="575.60" x2="307.80" y2="629.00" stroke="#000" stroke-width="2.0"/>
<line x1="300.20" y1="575.60" x2="315.00" y2="575.60" stroke="#000" stroke-width="2.0"/>
<line x1="300.20" y1="629.00" x2="315.00" y2="629.00" stroke="#000" stroke-width="2.0"/>
<path d="M315.20,602.90L315.20,599.60M315.20,602.90L318.34,601.88M315.20,602.90L312.06,601.88M315.20,602.90L317.14,605.57M315.20,602.90L313.26,605.57" stroke="#000" stroke-width="1.75" stroke-linecap="round" fill="none"/>
<text transform="translate(138.36,515.80) scale(1.0484,1)" font-size="15.31" font-weight="bold" font-family='"Liberation Sans", sans-serif' fill="#000" >CAL27/CDDP</text>
<g transform="translate(32.37,711.23) rotate(-90) scale(0.9698,1)"><text x="0.00" y="0.00" font-size="18.74" font-weight="bold" font-family='"Liberation Sans", sans-serif' fill="#000">OD value (</text><text x="92.67" y="0.00" font-size="19.67" font-weight="bold" font-family='"Liberation Serif", serif' fill="#000">λ</text><text x="102.33" y="0.00" font-size="18.74" font-weight="bold" font-family='"Liberation Sans", sans-serif' fill="#000">=450 nm)</text></g>
</g>
</svg>
</body></html>
